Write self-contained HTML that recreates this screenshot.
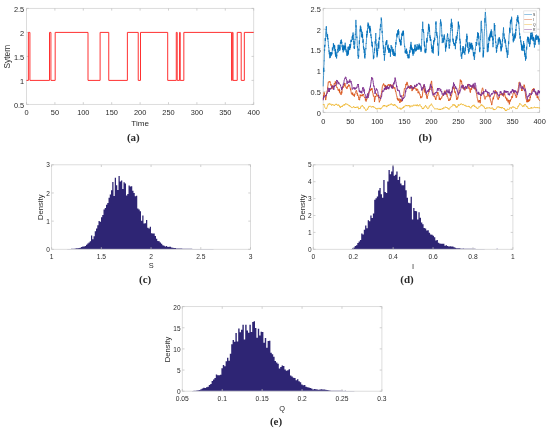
<!DOCTYPE html>
<html><head><meta charset="utf-8"><style>
html,body{margin:0;padding:0;background:#fff;}
body{width:550px;height:430px;overflow:hidden;position:relative;font-family:"Liberation Sans", sans-serif;}
svg{position:absolute;left:0;top:0;will-change:transform;}
</style></head><body>
<svg width="550" height="430" viewBox="0 0 550 430">
<rect x="26.50" y="8.40" width="227.20" height="96.00" fill="none" stroke="#d9d9d9" stroke-width="0.9"/>
<line x1="26.50" y1="104.40" x2="26.50" y2="102.20" stroke="#bdbdbd" stroke-width="0.7"/>
<line x1="26.50" y1="8.40" x2="26.50" y2="10.60" stroke="#bdbdbd" stroke-width="0.7"/>
<line x1="54.90" y1="104.40" x2="54.90" y2="102.20" stroke="#bdbdbd" stroke-width="0.7"/>
<line x1="54.90" y1="8.40" x2="54.90" y2="10.60" stroke="#bdbdbd" stroke-width="0.7"/>
<line x1="83.30" y1="104.40" x2="83.30" y2="102.20" stroke="#bdbdbd" stroke-width="0.7"/>
<line x1="83.30" y1="8.40" x2="83.30" y2="10.60" stroke="#bdbdbd" stroke-width="0.7"/>
<line x1="111.70" y1="104.40" x2="111.70" y2="102.20" stroke="#bdbdbd" stroke-width="0.7"/>
<line x1="111.70" y1="8.40" x2="111.70" y2="10.60" stroke="#bdbdbd" stroke-width="0.7"/>
<line x1="140.10" y1="104.40" x2="140.10" y2="102.20" stroke="#bdbdbd" stroke-width="0.7"/>
<line x1="140.10" y1="8.40" x2="140.10" y2="10.60" stroke="#bdbdbd" stroke-width="0.7"/>
<line x1="168.50" y1="104.40" x2="168.50" y2="102.20" stroke="#bdbdbd" stroke-width="0.7"/>
<line x1="168.50" y1="8.40" x2="168.50" y2="10.60" stroke="#bdbdbd" stroke-width="0.7"/>
<line x1="196.90" y1="104.40" x2="196.90" y2="102.20" stroke="#bdbdbd" stroke-width="0.7"/>
<line x1="196.90" y1="8.40" x2="196.90" y2="10.60" stroke="#bdbdbd" stroke-width="0.7"/>
<line x1="225.30" y1="104.40" x2="225.30" y2="102.20" stroke="#bdbdbd" stroke-width="0.7"/>
<line x1="225.30" y1="8.40" x2="225.30" y2="10.60" stroke="#bdbdbd" stroke-width="0.7"/>
<line x1="253.70" y1="104.40" x2="253.70" y2="102.20" stroke="#bdbdbd" stroke-width="0.7"/>
<line x1="253.70" y1="8.40" x2="253.70" y2="10.60" stroke="#bdbdbd" stroke-width="0.7"/>
<line x1="26.50" y1="104.40" x2="28.70" y2="104.40" stroke="#bdbdbd" stroke-width="0.7"/>
<line x1="253.70" y1="104.40" x2="251.50" y2="104.40" stroke="#bdbdbd" stroke-width="0.7"/>
<line x1="26.50" y1="80.40" x2="28.70" y2="80.40" stroke="#bdbdbd" stroke-width="0.7"/>
<line x1="253.70" y1="80.40" x2="251.50" y2="80.40" stroke="#bdbdbd" stroke-width="0.7"/>
<line x1="26.50" y1="56.40" x2="28.70" y2="56.40" stroke="#bdbdbd" stroke-width="0.7"/>
<line x1="253.70" y1="56.40" x2="251.50" y2="56.40" stroke="#bdbdbd" stroke-width="0.7"/>
<line x1="26.50" y1="32.40" x2="28.70" y2="32.40" stroke="#bdbdbd" stroke-width="0.7"/>
<line x1="253.70" y1="32.40" x2="251.50" y2="32.40" stroke="#bdbdbd" stroke-width="0.7"/>
<line x1="26.50" y1="8.40" x2="28.70" y2="8.40" stroke="#bdbdbd" stroke-width="0.7"/>
<line x1="253.70" y1="8.40" x2="251.50" y2="8.40" stroke="#bdbdbd" stroke-width="0.7"/>
<text x="26.50" y="115.05" font-size="7.4" text-anchor="middle" fill="#2a2a2a" font-family='"Liberation Sans", sans-serif' font-weight="normal">0</text>
<text x="54.90" y="115.05" font-size="7.4" text-anchor="middle" fill="#2a2a2a" font-family='"Liberation Sans", sans-serif' font-weight="normal">50</text>
<text x="83.30" y="115.05" font-size="7.4" text-anchor="middle" fill="#2a2a2a" font-family='"Liberation Sans", sans-serif' font-weight="normal">100</text>
<text x="111.70" y="115.05" font-size="7.4" text-anchor="middle" fill="#2a2a2a" font-family='"Liberation Sans", sans-serif' font-weight="normal">150</text>
<text x="140.10" y="115.05" font-size="7.4" text-anchor="middle" fill="#2a2a2a" font-family='"Liberation Sans", sans-serif' font-weight="normal">200</text>
<text x="168.50" y="115.05" font-size="7.4" text-anchor="middle" fill="#2a2a2a" font-family='"Liberation Sans", sans-serif' font-weight="normal">250</text>
<text x="196.90" y="115.05" font-size="7.4" text-anchor="middle" fill="#2a2a2a" font-family='"Liberation Sans", sans-serif' font-weight="normal">300</text>
<text x="225.30" y="115.05" font-size="7.4" text-anchor="middle" fill="#2a2a2a" font-family='"Liberation Sans", sans-serif' font-weight="normal">350</text>
<text x="253.70" y="115.05" font-size="7.4" text-anchor="middle" fill="#2a2a2a" font-family='"Liberation Sans", sans-serif' font-weight="normal">400</text>
<text x="24.20" y="107.75" font-size="7.4" text-anchor="end" fill="#2a2a2a" font-family='"Liberation Sans", sans-serif' font-weight="normal">0.5</text>
<text x="24.20" y="83.75" font-size="7.4" text-anchor="end" fill="#2a2a2a" font-family='"Liberation Sans", sans-serif' font-weight="normal">1</text>
<text x="24.20" y="59.75" font-size="7.4" text-anchor="end" fill="#2a2a2a" font-family='"Liberation Sans", sans-serif' font-weight="normal">1.5</text>
<text x="24.20" y="35.75" font-size="7.4" text-anchor="end" fill="#2a2a2a" font-family='"Liberation Sans", sans-serif' font-weight="normal">2</text>
<text x="24.20" y="11.75" font-size="7.4" text-anchor="end" fill="#2a2a2a" font-family='"Liberation Sans", sans-serif' font-weight="normal">2.5</text>
<text x="140.10" y="126.10" font-size="8.1" text-anchor="middle" fill="#2a2a2a" font-family='"Liberation Sans", sans-serif' font-weight="normal">Time</text>
<text transform="translate(6.60,56.70) rotate(-90)" x="0" y="2.97" font-size="8.3" text-anchor="middle" fill="#2a2a2a" font-family='"Liberation Sans", sans-serif' font-weight="normal">Sytem</text>
<text x="133.30" y="141.35" font-size="11" text-anchor="middle" fill="#2a2a2a" font-family='"Liberation Serif", serif' font-weight="bold">(a)</text>
<polyline fill="none" stroke="#ff3030" stroke-width="1" points="26.50,80.40 28.37,80.40 28.37,32.40 29.91,32.40 29.91,80.40 49.50,80.40 49.50,32.40 50.92,32.40 50.92,80.40 55.18,80.40 55.18,32.40 88.01,32.40 88.01,80.40 100.11,80.40 100.11,32.40 108.75,32.40 108.75,80.40 127.38,80.40 127.38,32.40 138.23,32.40 138.23,80.40 140.50,80.40 140.50,32.40 167.70,32.40 167.70,80.40 176.28,80.40 176.28,32.40 177.19,32.40 177.19,80.40 179.58,80.40 179.58,32.40 180.20,32.40 180.20,80.40 183.84,80.40 183.84,32.40 231.55,32.40 231.55,80.40 232.29,80.40 232.29,32.40 233.02,32.40 233.02,80.40 237.23,80.40 237.23,32.40 241.20,32.40 241.20,80.40 244.33,80.40 244.33,32.40 253.70,32.40 253.70,32.40"/>
<rect x="323.20" y="8.40" width="216.40" height="104.00" fill="none" stroke="#d9d9d9" stroke-width="0.9"/>
<line x1="323.20" y1="112.40" x2="323.20" y2="110.20" stroke="#bdbdbd" stroke-width="0.7"/>
<line x1="323.20" y1="8.40" x2="323.20" y2="10.60" stroke="#bdbdbd" stroke-width="0.7"/>
<line x1="350.25" y1="112.40" x2="350.25" y2="110.20" stroke="#bdbdbd" stroke-width="0.7"/>
<line x1="350.25" y1="8.40" x2="350.25" y2="10.60" stroke="#bdbdbd" stroke-width="0.7"/>
<line x1="377.30" y1="112.40" x2="377.30" y2="110.20" stroke="#bdbdbd" stroke-width="0.7"/>
<line x1="377.30" y1="8.40" x2="377.30" y2="10.60" stroke="#bdbdbd" stroke-width="0.7"/>
<line x1="404.35" y1="112.40" x2="404.35" y2="110.20" stroke="#bdbdbd" stroke-width="0.7"/>
<line x1="404.35" y1="8.40" x2="404.35" y2="10.60" stroke="#bdbdbd" stroke-width="0.7"/>
<line x1="431.40" y1="112.40" x2="431.40" y2="110.20" stroke="#bdbdbd" stroke-width="0.7"/>
<line x1="431.40" y1="8.40" x2="431.40" y2="10.60" stroke="#bdbdbd" stroke-width="0.7"/>
<line x1="458.45" y1="112.40" x2="458.45" y2="110.20" stroke="#bdbdbd" stroke-width="0.7"/>
<line x1="458.45" y1="8.40" x2="458.45" y2="10.60" stroke="#bdbdbd" stroke-width="0.7"/>
<line x1="485.50" y1="112.40" x2="485.50" y2="110.20" stroke="#bdbdbd" stroke-width="0.7"/>
<line x1="485.50" y1="8.40" x2="485.50" y2="10.60" stroke="#bdbdbd" stroke-width="0.7"/>
<line x1="512.55" y1="112.40" x2="512.55" y2="110.20" stroke="#bdbdbd" stroke-width="0.7"/>
<line x1="512.55" y1="8.40" x2="512.55" y2="10.60" stroke="#bdbdbd" stroke-width="0.7"/>
<line x1="539.60" y1="112.40" x2="539.60" y2="110.20" stroke="#bdbdbd" stroke-width="0.7"/>
<line x1="539.60" y1="8.40" x2="539.60" y2="10.60" stroke="#bdbdbd" stroke-width="0.7"/>
<line x1="323.20" y1="112.40" x2="325.40" y2="112.40" stroke="#bdbdbd" stroke-width="0.7"/>
<line x1="539.60" y1="112.40" x2="537.40" y2="112.40" stroke="#bdbdbd" stroke-width="0.7"/>
<line x1="323.20" y1="91.60" x2="325.40" y2="91.60" stroke="#bdbdbd" stroke-width="0.7"/>
<line x1="539.60" y1="91.60" x2="537.40" y2="91.60" stroke="#bdbdbd" stroke-width="0.7"/>
<line x1="323.20" y1="70.80" x2="325.40" y2="70.80" stroke="#bdbdbd" stroke-width="0.7"/>
<line x1="539.60" y1="70.80" x2="537.40" y2="70.80" stroke="#bdbdbd" stroke-width="0.7"/>
<line x1="323.20" y1="50.00" x2="325.40" y2="50.00" stroke="#bdbdbd" stroke-width="0.7"/>
<line x1="539.60" y1="50.00" x2="537.40" y2="50.00" stroke="#bdbdbd" stroke-width="0.7"/>
<line x1="323.20" y1="29.20" x2="325.40" y2="29.20" stroke="#bdbdbd" stroke-width="0.7"/>
<line x1="539.60" y1="29.20" x2="537.40" y2="29.20" stroke="#bdbdbd" stroke-width="0.7"/>
<line x1="323.20" y1="8.40" x2="325.40" y2="8.40" stroke="#bdbdbd" stroke-width="0.7"/>
<line x1="539.60" y1="8.40" x2="537.40" y2="8.40" stroke="#bdbdbd" stroke-width="0.7"/>
<text x="323.20" y="123.65" font-size="7.4" text-anchor="middle" fill="#2a2a2a" font-family='"Liberation Sans", sans-serif' font-weight="normal">0</text>
<text x="350.25" y="123.65" font-size="7.4" text-anchor="middle" fill="#2a2a2a" font-family='"Liberation Sans", sans-serif' font-weight="normal">50</text>
<text x="377.30" y="123.65" font-size="7.4" text-anchor="middle" fill="#2a2a2a" font-family='"Liberation Sans", sans-serif' font-weight="normal">100</text>
<text x="404.35" y="123.65" font-size="7.4" text-anchor="middle" fill="#2a2a2a" font-family='"Liberation Sans", sans-serif' font-weight="normal">150</text>
<text x="431.40" y="123.65" font-size="7.4" text-anchor="middle" fill="#2a2a2a" font-family='"Liberation Sans", sans-serif' font-weight="normal">200</text>
<text x="458.45" y="123.65" font-size="7.4" text-anchor="middle" fill="#2a2a2a" font-family='"Liberation Sans", sans-serif' font-weight="normal">250</text>
<text x="485.50" y="123.65" font-size="7.4" text-anchor="middle" fill="#2a2a2a" font-family='"Liberation Sans", sans-serif' font-weight="normal">300</text>
<text x="512.55" y="123.65" font-size="7.4" text-anchor="middle" fill="#2a2a2a" font-family='"Liberation Sans", sans-serif' font-weight="normal">350</text>
<text x="539.60" y="123.65" font-size="7.4" text-anchor="middle" fill="#2a2a2a" font-family='"Liberation Sans", sans-serif' font-weight="normal">400</text>
<text x="320.90" y="115.75" font-size="7.4" text-anchor="end" fill="#2a2a2a" font-family='"Liberation Sans", sans-serif' font-weight="normal">0</text>
<text x="320.90" y="94.95" font-size="7.4" text-anchor="end" fill="#2a2a2a" font-family='"Liberation Sans", sans-serif' font-weight="normal">0.5</text>
<text x="320.90" y="74.15" font-size="7.4" text-anchor="end" fill="#2a2a2a" font-family='"Liberation Sans", sans-serif' font-weight="normal">1</text>
<text x="320.90" y="53.35" font-size="7.4" text-anchor="end" fill="#2a2a2a" font-family='"Liberation Sans", sans-serif' font-weight="normal">1.5</text>
<text x="320.90" y="32.55" font-size="7.4" text-anchor="end" fill="#2a2a2a" font-family='"Liberation Sans", sans-serif' font-weight="normal">2</text>
<text x="320.90" y="11.75" font-size="7.4" text-anchor="end" fill="#2a2a2a" font-family='"Liberation Sans", sans-serif' font-weight="normal">2.5</text>
<text x="425.30" y="141.35" font-size="11" text-anchor="middle" fill="#2a2a2a" font-family='"Liberation Serif", serif' font-weight="bold">(b)</text>
<polyline fill="none" stroke="#0070BA" stroke-width="0.7" stroke-linejoin="round" points="323.2,86.4 323.3,80.8 323.4,79.8 323.5,75.7 323.6,75.5 323.7,67.8 323.8,72.0 323.9,65.4 324.0,65.0 324.1,60.6 324.2,61.2 324.3,54.0 324.4,53.3 324.5,49.6 324.6,50.5 324.7,45.1 324.8,47.2 324.9,44.8 325.0,45.5 325.1,43.6 325.2,38.1 325.3,41.0 325.4,40.0 325.5,37.4 325.6,36.3 325.7,32.2 325.8,32.2 325.9,30.8 326.0,29.1 326.1,29.7 326.2,26.8 326.3,27.3 326.3,27.3 326.4,26.3 326.5,30.0 326.6,33.6 326.7,32.6 326.8,35.1 326.9,36.0 327.0,37.0 327.1,35.4 327.2,34.0 327.3,35.3 327.4,39.0 327.5,35.7 327.6,34.5 327.7,35.7 327.8,39.5 327.9,38.0 328.0,40.2 328.1,41.8 328.2,41.5 328.3,42.0 328.4,45.5 328.5,45.0 328.6,47.6 328.7,47.6 328.8,47.2 328.9,48.9 329.0,51.8 329.1,50.4 329.2,53.4 329.3,54.4 329.4,52.3 329.5,54.2 329.6,54.5 329.7,58.2 329.8,57.8 329.9,56.7 330.0,52.6 330.1,54.0 330.2,56.7 330.3,56.8 330.4,57.7 330.5,55.2 330.6,52.1 330.7,55.4 330.8,56.2 330.9,53.2 331.0,53.9 331.1,52.3 331.2,52.2 331.3,54.0 331.4,54.2 331.5,55.5 331.6,55.1 331.7,52.2 331.8,54.4 331.9,53.3 332.0,53.8 332.1,53.7 332.2,51.8 332.3,48.9 332.4,47.5 332.5,50.0 332.5,49.3 332.6,48.9 332.7,50.0 332.8,50.1 332.9,50.6 333.0,47.5 333.1,48.6 333.2,46.4 333.3,45.5 333.4,43.1 333.5,45.4 333.6,47.4 333.7,44.2 333.8,45.2 333.9,46.7 334.0,45.8 334.1,46.6 334.2,47.6 334.3,45.6 334.4,46.2 334.5,45.2 334.6,49.1 334.7,45.5 334.8,48.9 334.9,49.8 335.0,51.0 335.1,49.2 335.2,52.0 335.3,54.5 335.4,49.2 335.5,54.0 335.6,56.8 335.7,55.5 335.8,51.8 335.9,55.8 336.0,53.4 336.1,53.7 336.2,53.6 336.3,56.5 336.4,57.5 336.5,56.8 336.6,58.5 336.7,55.0 336.8,56.3 336.9,55.0 337.0,53.2 337.1,51.8 337.2,52.8 337.3,50.9 337.4,49.6 337.5,49.9 337.6,49.5 337.7,50.3 337.8,49.8 337.9,48.8 338.0,47.8 338.1,44.9 338.2,50.2 338.3,52.3 338.4,47.7 338.5,49.0 338.6,48.6 338.7,47.2 338.7,47.6 338.8,44.7 338.9,45.9 339.0,45.8 339.1,46.4 339.2,46.5 339.3,47.6 339.4,46.7 339.5,48.5 339.6,47.4 339.7,51.0 339.8,45.1 339.9,46.7 340.0,47.5 340.1,49.7 340.2,44.4 340.3,43.0 340.4,42.3 340.5,43.5 340.6,42.0 340.7,43.0 340.8,41.2 340.9,40.1 341.0,41.6 341.1,41.3 341.2,44.0 341.3,40.7 341.4,39.5 341.5,41.7 341.6,42.5 341.7,43.1 341.8,41.8 341.9,43.3 342.0,44.3 342.1,47.2 342.2,45.7 342.3,44.9 342.4,45.5 342.5,50.0 342.6,47.9 342.7,48.1 342.8,49.4 342.9,47.0 343.0,50.1 343.1,49.4 343.2,52.4 343.3,47.2 343.4,45.8 343.5,46.3 343.6,48.2 343.7,48.0 343.8,50.8 343.9,47.6 344.0,44.9 344.1,49.8 344.2,47.0 344.3,46.4 344.4,48.8 344.5,47.7 344.6,46.0 344.7,48.1 344.8,47.2 344.8,47.6 344.9,46.2 345.0,47.1 345.1,46.1 345.2,42.7 345.3,50.1 345.4,45.7 345.5,45.6 345.6,46.2 345.7,47.3 345.8,48.9 345.9,50.6 346.0,50.6 346.1,52.2 346.2,50.1 346.3,49.6 346.4,49.6 346.5,50.3 346.6,50.3 346.7,55.6 346.8,55.5 346.9,55.7 347.0,53.2 347.1,51.6 347.2,53.1 347.3,53.7 347.4,53.7 347.5,52.3 347.6,55.9 347.7,50.6 347.8,52.0 347.9,52.6 348.0,46.8 348.1,54.8 348.2,52.0 348.3,50.5 348.4,54.2 348.5,50.3 348.6,51.3 348.7,51.2 348.8,50.1 348.9,46.4 349.0,50.0 349.1,47.3 349.2,49.0 349.3,49.8 349.4,48.0 349.5,48.1 349.6,45.8 349.7,44.0 349.8,48.4 349.9,49.6 350.0,47.1 350.1,47.9 350.2,46.8 350.3,47.3 350.4,44.9 350.5,47.5 350.6,44.3 350.7,45.3 350.8,41.6 350.9,40.8 351.0,40.5 351.0,41.9 351.1,39.8 351.2,39.6 351.3,41.3 351.4,41.4 351.5,40.1 351.6,41.7 351.7,41.3 351.8,39.5 351.9,39.3 352.0,37.0 352.1,37.2 352.2,36.4 352.3,37.4 352.4,37.5 352.5,35.3 352.6,37.0 352.7,40.0 352.8,34.2 352.9,34.1 353.0,32.5 353.1,32.5 353.2,35.3 353.3,35.6 353.4,34.7 353.5,39.3 353.6,38.7 353.7,41.9 353.8,41.0 353.9,44.8 354.0,41.4 354.1,48.3 354.2,46.4 354.3,47.8 354.4,49.0 354.5,49.0 354.6,47.4 354.7,45.5 354.8,42.8 354.9,43.3 355.0,39.4 355.1,40.0 355.2,38.7 355.3,33.8 355.4,34.7 355.5,30.4 355.6,28.6 355.7,24.4 355.8,24.3 355.9,19.9 356.0,24.2 356.1,26.8 356.2,25.5 356.3,25.5 356.4,26.5 356.5,28.4 356.6,29.0 356.7,34.0 356.8,38.0 356.9,36.6 357.0,40.0 357.1,41.0 357.2,41.2 357.2,43.5 357.3,45.6 357.4,47.6 357.5,46.2 357.6,51.8 357.7,54.2 357.8,54.2 357.9,55.6 358.0,54.8 358.1,57.1 358.2,58.6 358.3,58.4 358.4,58.6 358.5,56.7 358.6,55.5 358.7,57.1 358.8,48.7 358.9,50.7 359.0,48.0 359.1,47.8 359.2,46.0 359.3,40.4 359.4,44.1 359.5,41.8 359.6,39.6 359.7,37.1 359.8,37.1 359.9,34.6 360.0,34.2 360.1,29.3 360.2,31.7 360.3,26.1 360.4,25.6 360.5,30.7 360.6,29.1 360.7,29.8 360.8,26.6 360.9,27.7 361.0,30.9 361.1,29.1 361.2,30.3 361.3,32.1 361.4,30.6 361.5,31.1 361.6,30.9 361.7,37.0 361.8,34.2 361.9,34.4 362.0,34.2 362.1,37.8 362.2,31.8 362.3,35.9 362.4,34.5 362.5,38.1 362.6,34.4 362.7,36.9 362.8,39.6 362.9,42.9 363.0,41.2 363.1,41.7 363.2,39.2 363.3,42.5 363.4,46.3 363.4,47.5 363.5,46.2 363.6,49.4 363.7,49.4 363.8,48.7 363.9,47.4 364.0,48.6 364.1,50.4 364.2,53.2 364.3,51.3 364.4,49.0 364.5,53.2 364.6,57.4 364.7,55.1 364.8,55.3 364.9,58.5 365.0,55.5 365.1,53.7 365.2,54.9 365.3,53.9 365.4,52.0 365.5,51.6 365.6,50.7 365.7,49.2 365.8,48.2 365.9,49.2 366.0,44.7 366.1,43.3 366.2,43.9 366.3,42.0 366.4,41.0 366.5,38.4 366.6,34.6 366.7,34.0 366.8,37.5 366.9,33.6 367.0,35.2 367.1,30.8 367.2,33.2 367.3,30.7 367.4,33.2 367.5,28.5 367.6,29.1 367.7,28.7 367.8,25.5 367.9,26.1 368.0,22.5 368.1,23.8 368.2,26.7 368.3,23.8 368.4,24.9 368.5,23.8 368.6,23.9 368.7,28.1 368.8,27.3 368.9,26.8 369.0,27.1 369.1,27.6 369.2,29.1 369.3,28.0 369.4,25.8 369.5,29.8 369.6,27.5 369.6,29.7 369.7,32.9 369.8,29.1 369.9,29.0 370.0,26.3 370.1,25.9 370.2,30.5 370.3,29.4 370.4,31.1 370.5,28.4 370.6,29.8 370.7,32.2 370.8,36.1 370.9,34.2 371.0,35.6 371.1,37.1 371.2,38.1 371.3,36.7 371.4,39.1 371.5,41.3 371.6,41.3 371.7,42.9 371.8,41.5 371.9,42.4 372.0,46.0 372.1,42.2 372.2,45.9 372.3,47.1 372.4,45.0 372.5,47.8 372.6,48.4 372.7,48.6 372.8,50.5 372.9,52.4 373.0,52.5 373.1,53.5 373.2,53.7 373.3,57.7 373.4,59.2 373.5,57.7 373.6,57.9 373.7,55.5 373.8,58.2 373.9,55.9 374.0,54.7 374.1,53.2 374.2,52.4 374.3,52.6 374.4,53.1 374.5,48.4 374.6,50.6 374.7,50.8 374.8,49.1 374.9,46.4 375.0,46.3 375.1,41.2 375.2,43.2 375.3,43.1 375.4,43.7 375.5,38.5 375.6,36.4 375.7,35.4 375.8,33.0 375.8,34.7 375.9,40.5 376.0,40.1 376.1,39.6 376.2,45.4 376.3,44.4 376.4,45.1 376.5,46.0 376.6,51.7 376.7,48.2 376.8,49.5 376.9,53.4 377.0,57.3 377.1,56.0 377.2,51.7 377.3,54.5 377.4,52.0 377.5,55.4 377.6,49.7 377.7,50.4 377.8,51.1 377.9,47.8 378.0,48.7 378.1,43.3 378.2,44.8 378.3,46.2 378.4,44.9 378.5,47.3 378.6,46.3 378.7,41.4 378.8,48.5 378.9,42.8 379.0,40.6 379.1,37.8 379.2,38.5 379.3,37.9 379.4,37.8 379.5,37.0 379.6,39.8 379.7,34.8 379.8,33.8 379.9,31.9 380.0,29.3 380.1,28.7 380.2,30.3 380.3,28.4 380.4,25.2 380.5,24.2 380.6,25.5 380.7,25.6 380.8,25.5 380.9,27.1 381.0,22.5 381.1,22.4 381.2,17.5 381.3,18.8 381.4,20.2 381.5,18.8 381.6,21.3 381.7,21.3 381.8,23.7 381.9,25.0 381.9,28.7 382.0,28.5 382.1,32.9 382.2,30.9 382.3,34.7 382.4,34.8 382.5,36.3 382.6,37.0 382.7,39.8 382.8,42.1 382.9,41.4 383.0,41.4 383.1,46.2 383.2,46.7 383.3,48.6 383.4,49.3 383.5,47.0 383.6,45.3 383.7,48.6 383.8,52.9 383.9,50.6 384.0,55.1 384.1,54.3 384.2,55.0 384.3,54.0 384.4,60.7 384.5,58.0 384.6,56.9 384.7,54.1 384.8,55.0 384.9,52.4 385.0,53.0 385.1,47.2 385.2,48.0 385.3,51.6 385.4,48.8 385.5,47.8 385.6,47.3 385.7,45.7 385.8,43.7 385.9,44.9 386.0,41.5 386.1,41.7 386.2,44.3 386.3,44.9 386.4,41.9 386.5,44.1 386.6,40.4 386.7,43.7 386.8,40.0 386.9,42.7 387.0,45.1 387.1,45.3 387.2,46.4 387.3,46.3 387.4,47.1 387.5,47.8 387.6,46.6 387.7,45.8 387.8,49.2 387.9,49.2 388.0,49.3 388.1,48.1 388.1,49.4 388.2,44.6 388.3,49.5 388.4,49.0 388.5,51.4 388.6,49.7 388.7,50.7 388.8,53.0 388.9,49.1 389.0,51.0 389.1,47.8 389.2,50.4 389.3,51.0 389.4,51.1 389.5,48.1 389.6,51.9 389.7,51.7 389.8,52.6 389.9,51.4 390.0,52.4 390.1,51.9 390.2,51.1 390.3,49.9 390.4,56.8 390.5,54.7 390.6,49.3 390.7,50.6 390.8,50.6 390.9,50.5 391.0,48.4 391.1,45.0 391.2,47.3 391.3,47.4 391.4,47.7 391.5,47.1 391.6,46.7 391.7,48.4 391.8,49.5 391.9,46.8 392.0,47.9 392.1,47.7 392.2,51.8 392.3,49.7 392.4,51.9 392.5,49.7 392.6,51.5 392.7,49.5 392.8,54.7 392.9,52.5 393.0,50.6 393.1,52.5 393.2,48.9 393.3,51.3 393.4,52.7 393.5,52.0 393.6,54.0 393.7,53.3 393.8,56.0 393.9,55.1 394.0,55.0 394.1,51.5 394.2,55.8 394.3,54.4 394.3,56.0 394.4,53.5 394.5,55.2 394.6,53.7 394.7,53.1 394.8,53.0 394.9,55.0 395.0,54.3 395.1,53.1 395.2,56.3 395.3,49.9 395.4,48.7 395.5,46.4 395.6,47.0 395.7,44.0 395.8,42.0 395.9,44.0 396.0,44.1 396.1,44.6 396.2,40.1 396.3,40.4 396.4,39.3 396.5,39.0 396.6,38.7 396.7,37.9 396.8,37.5 396.9,34.2 397.0,37.4 397.1,33.2 397.2,35.6 397.3,33.8 397.4,34.8 397.5,33.2 397.6,30.3 397.7,30.5 397.8,30.5 397.9,31.6 398.0,34.6 398.1,30.7 398.2,30.7 398.3,34.8 398.4,34.0 398.5,29.2 398.6,33.7 398.7,33.9 398.8,31.1 398.9,33.7 399.0,35.7 399.1,38.2 399.2,39.1 399.3,39.1 399.4,40.2 399.5,38.7 399.6,39.2 399.7,41.2 399.8,41.7 399.9,39.2 400.0,42.1 400.1,40.0 400.2,41.0 400.3,43.1 400.4,44.4 400.5,40.6 400.5,43.4 400.6,44.8 400.7,44.4 400.8,45.6 400.9,41.1 401.0,45.1 401.1,44.4 401.2,43.2 401.3,42.1 401.4,37.3 401.5,39.8 401.6,36.5 401.7,36.9 401.8,33.8 401.9,35.4 402.0,35.3 402.1,32.7 402.2,35.5 402.3,35.4 402.4,34.1 402.5,33.3 402.6,35.7 402.7,32.8 402.8,35.9 402.9,33.2 403.0,31.1 403.1,32.9 403.2,30.5 403.3,35.0 403.4,31.0 403.5,33.9 403.6,33.0 403.7,34.7 403.8,36.7 403.9,37.7 404.0,40.0 404.1,41.0 404.2,42.8 404.3,43.1 404.4,45.0 404.5,46.6 404.6,46.8 404.7,45.9 404.8,47.1 404.9,49.4 405.0,50.5 405.1,51.4 405.2,52.8 405.3,50.8 405.4,53.4 405.5,50.6 405.6,50.1 405.7,50.7 405.8,50.9 405.9,51.4 406.0,51.9 406.1,51.8 406.2,48.6 406.3,51.5 406.4,53.8 406.5,49.4 406.6,48.9 406.7,53.4 406.7,53.9 406.8,53.2 406.9,51.2 407.0,51.2 407.1,52.4 407.2,52.1 407.3,55.9 407.4,55.0 407.5,54.6 407.6,54.4 407.7,54.8 407.8,55.3 407.9,58.2 408.0,57.6 408.1,54.9 408.2,56.5 408.3,56.8 408.4,57.7 408.5,56.6 408.6,56.5 408.7,56.5 408.8,58.4 408.9,53.9 409.0,58.1 409.1,57.3 409.2,55.7 409.3,55.5 409.4,55.4 409.5,51.8 409.6,52.9 409.7,52.0 409.8,49.9 409.9,52.8 410.0,51.0 410.1,51.5 410.2,47.1 410.3,47.3 410.4,46.8 410.5,49.4 410.6,47.3 410.7,44.5 410.8,47.8 410.9,47.3 411.0,41.9 411.1,47.9 411.2,45.3 411.3,50.2 411.4,48.7 411.5,46.7 411.6,48.9 411.7,47.0 411.8,47.3 411.9,49.0 412.0,49.1 412.1,50.0 412.2,49.5 412.3,48.7 412.4,52.1 412.5,48.5 412.6,53.4 412.7,49.8 412.8,52.7 412.9,54.1 412.9,52.5 413.0,55.6 413.1,55.8 413.2,55.3 413.3,53.3 413.4,53.3 413.5,51.8 413.6,49.0 413.7,52.7 413.8,49.9 413.9,53.8 414.0,53.3 414.1,52.0 414.2,51.8 414.3,51.0 414.4,49.1 414.5,49.5 414.6,47.5 414.7,50.0 414.8,50.2 414.9,44.9 415.0,47.1 415.1,46.8 415.2,44.6 415.3,48.3 415.4,49.0 415.5,49.0 415.6,49.3 415.7,51.5 415.8,48.8 415.9,49.9 416.0,50.9 416.1,49.8 416.2,47.7 416.3,50.3 416.4,50.1 416.5,50.2 416.6,46.6 416.7,47.6 416.8,48.8 416.9,49.9 417.0,49.9 417.1,44.1 417.2,44.2 417.3,45.4 417.4,45.5 417.5,47.7 417.6,49.0 417.7,49.0 417.8,49.5 417.9,48.9 418.0,47.2 418.1,47.4 418.2,48.0 418.3,47.0 418.4,47.5 418.5,49.3 418.6,45.7 418.7,48.0 418.8,48.8 418.9,46.9 419.0,44.8 419.0,49.6 419.1,48.0 419.2,43.6 419.3,46.4 419.4,47.6 419.5,46.1 419.6,48.1 419.7,45.1 419.8,47.2 419.9,47.2 420.0,46.2 420.1,45.9 420.2,47.0 420.3,49.6 420.4,47.0 420.5,47.4 420.6,48.5 420.7,46.7 420.8,48.0 420.9,49.9 421.0,51.9 421.1,49.7 421.2,47.4 421.3,50.5 421.4,49.4 421.5,47.3 421.6,44.4 421.7,39.2 421.8,39.8 421.9,37.5 422.0,32.1 422.1,31.1 422.2,29.0 422.3,30.1 422.4,29.6 422.5,28.5 422.6,24.9 422.7,21.7 422.8,23.4 422.9,29.3 423.0,32.0 423.1,29.2 423.2,30.6 423.3,29.6 423.4,30.9 423.5,31.0 423.6,32.8 423.7,31.8 423.8,33.8 423.9,35.1 424.0,38.8 424.1,41.8 424.2,41.7 424.3,45.8 424.4,41.5 424.5,43.4 424.6,46.5 424.7,44.8 424.8,47.1 424.9,46.5 425.0,51.8 425.1,50.2 425.2,53.2 425.2,48.9 425.3,49.4 425.4,50.5 425.5,48.8 425.6,51.9 425.7,50.9 425.8,52.8 425.9,48.7 426.0,49.0 426.1,49.4 426.2,50.4 426.3,48.7 426.4,43.3 426.5,41.0 426.6,42.2 426.7,37.9 426.8,38.4 426.9,40.7 427.0,42.6 427.1,39.9 427.2,41.1 427.3,38.9 427.4,38.9 427.5,36.6 427.6,34.8 427.7,34.8 427.8,35.4 427.9,32.4 428.0,33.7 428.1,32.8 428.2,29.6 428.3,29.5 428.4,26.6 428.5,23.8 428.6,27.2 428.7,30.0 428.8,29.2 428.9,28.5 429.0,24.4 429.1,28.9 429.2,31.5 429.3,26.8 429.4,31.8 429.5,30.4 429.6,29.9 429.7,32.6 429.8,34.9 429.9,37.9 430.0,35.3 430.1,36.6 430.2,37.7 430.3,40.8 430.4,37.0 430.5,40.7 430.6,39.0 430.7,39.1 430.8,39.8 430.9,40.3 431.0,39.6 431.1,41.5 431.2,42.4 431.3,45.3 431.4,44.5 431.4,44.5 431.5,48.6 431.6,46.1 431.7,45.8 431.8,48.8 431.9,49.1 432.0,47.8 432.1,51.6 432.2,50.2 432.3,52.8 432.4,49.7 432.5,50.9 432.6,49.3 432.7,47.9 432.8,47.1 432.9,49.9 433.0,45.3 433.1,49.6 433.2,49.3 433.3,53.5 433.4,46.8 433.5,48.0 433.6,40.5 433.7,44.6 433.8,43.0 433.9,40.4 434.0,41.5 434.1,42.1 434.2,41.5 434.3,40.4 434.4,37.7 434.5,39.6 434.6,40.8 434.7,38.9 434.8,39.9 434.9,36.8 435.0,35.9 435.1,33.4 435.2,32.3 435.3,32.9 435.4,29.6 435.5,29.3 435.6,28.0 435.7,25.1 435.8,22.4 435.9,24.5 436.0,21.3 436.1,23.5 436.2,24.5 436.3,27.4 436.4,27.9 436.5,30.3 436.6,34.5 436.7,35.9 436.8,32.0 436.9,34.7 437.0,34.5 437.1,36.4 437.2,37.9 437.3,35.9 437.4,35.7 437.5,39.1 437.6,40.4 437.6,43.5 437.7,45.6 437.8,42.9 437.9,44.3 438.0,44.1 438.1,44.3 438.2,51.9 438.3,51.8 438.4,55.8 438.5,51.6 438.6,54.5 438.7,50.9 438.8,49.0 438.9,46.7 439.0,45.5 439.1,44.4 439.2,43.7 439.3,39.6 439.4,38.0 439.5,36.3 439.6,36.4 439.7,35.9 439.8,34.3 439.9,32.7 440.0,29.4 440.1,27.2 440.2,23.2 440.3,22.9 440.4,23.6 440.5,19.5 440.6,19.3 440.7,23.0 440.8,22.5 440.9,22.5 441.0,21.7 441.1,26.1 441.2,23.4 441.3,24.4 441.4,27.2 441.5,27.3 441.6,29.6 441.7,31.0 441.8,33.4 441.9,36.6 442.0,34.6 442.1,38.2 442.2,43.1 442.3,42.0 442.4,41.6 442.5,41.4 442.6,40.7 442.7,38.9 442.8,37.9 442.9,40.8 443.0,40.7 443.1,42.4 443.2,41.3 443.3,39.8 443.4,42.4 443.5,38.8 443.6,39.6 443.7,38.3 443.8,38.6 443.8,38.8 443.9,38.1 444.0,35.7 444.1,39.0 444.2,36.5 444.3,34.4 444.4,35.8 444.5,35.9 444.6,39.7 444.7,39.4 444.8,38.7 444.9,39.8 445.0,42.0 445.1,42.5 445.2,45.0 445.3,44.9 445.4,47.8 445.5,46.6 445.6,51.6 445.7,48.6 445.8,44.9 445.9,48.4 446.0,45.5 446.1,43.7 446.2,42.7 446.3,44.4 446.4,47.0 446.5,44.7 446.6,41.8 446.7,39.9 446.8,41.7 446.9,41.0 447.0,37.4 447.1,37.5 447.2,36.6 447.3,35.5 447.4,36.5 447.5,33.4 447.6,34.9 447.7,34.1 447.8,36.5 447.9,36.6 448.0,36.7 448.1,39.2 448.2,38.3 448.3,40.8 448.4,40.3 448.5,40.7 448.6,40.1 448.7,40.8 448.8,45.6 448.9,46.0 449.0,45.8 449.1,48.3 449.2,47.9 449.3,47.3 449.4,48.5 449.5,44.7 449.6,44.3 449.7,45.9 449.8,43.8 449.9,38.9 449.9,42.4 450.0,41.4 450.1,39.7 450.2,36.2 450.3,33.6 450.4,33.5 450.5,31.8 450.6,29.4 450.7,28.2 450.8,29.1 450.9,28.0 451.0,23.5 451.1,27.0 451.2,25.6 451.3,21.8 451.4,18.8 451.5,22.5 451.6,23.0 451.7,23.4 451.8,26.0 451.9,22.3 452.0,28.1 452.1,25.0 452.2,30.9 452.3,29.3 452.4,30.8 452.5,33.5 452.6,36.4 452.7,37.7 452.8,39.3 452.9,40.2 453.0,38.6 453.1,41.7 453.2,39.3 453.3,42.1 453.4,41.4 453.5,43.9 453.6,42.2 453.7,43.3 453.8,42.7 453.9,43.1 454.0,43.5 454.1,45.5 454.2,45.0 454.3,45.3 454.4,43.2 454.5,44.1 454.6,43.8 454.7,45.0 454.8,43.6 454.9,44.5 455.0,45.6 455.1,44.6 455.2,45.4 455.3,45.2 455.4,49.2 455.5,41.3 455.6,39.8 455.7,42.4 455.8,42.7 455.9,42.0 456.0,43.4 456.1,42.9 456.1,40.5 456.2,36.2 456.3,40.8 456.4,37.8 456.5,37.5 456.6,36.9 456.7,37.9 456.8,36.3 456.9,39.5 457.0,38.3 457.1,34.7 457.2,35.1 457.3,35.8 457.4,32.0 457.5,33.8 457.6,31.6 457.7,30.2 457.8,30.5 457.9,30.4 458.0,26.8 458.1,25.9 458.2,24.8 458.3,21.5 458.4,24.7 458.5,22.0 458.6,26.6 458.7,24.1 458.8,27.4 458.9,28.7 459.0,28.7 459.1,27.3 459.2,25.5 459.3,30.3 459.4,31.4 459.5,32.4 459.6,34.5 459.7,39.8 459.8,38.7 459.9,40.7 460.0,39.6 460.1,43.5 460.2,42.9 460.3,41.3 460.4,50.4 460.5,45.4 460.6,51.4 460.7,52.5 460.8,53.1 460.9,54.8 461.0,55.5 461.1,56.5 461.2,55.6 461.3,55.7 461.4,56.0 461.5,53.9 461.6,54.8 461.7,58.9 461.8,57.2 461.9,55.3 462.0,52.8 462.1,52.1 462.2,54.3 462.3,52.1 462.3,48.1 462.4,49.4 462.5,51.9 462.6,53.4 462.7,52.4 462.8,49.1 462.9,49.2 463.0,46.2 463.1,48.6 463.2,46.3 463.3,47.4 463.4,48.4 463.5,52.6 463.6,50.7 463.7,50.7 463.8,50.6 463.9,48.1 464.0,50.6 464.1,50.4 464.2,53.3 464.3,52.0 464.4,52.7 464.5,51.4 464.6,52.8 464.7,53.4 464.8,54.2 464.9,54.8 465.0,52.9 465.1,50.6 465.2,49.4 465.3,47.1 465.4,51.2 465.5,49.1 465.6,46.5 465.7,44.3 465.8,46.9 465.9,45.9 466.0,43.0 466.1,42.5 466.2,39.0 466.3,40.0 466.4,42.1 466.5,41.7 466.6,36.2 466.7,36.6 466.8,33.7 466.9,35.4 467.0,39.5 467.1,38.7 467.2,35.9 467.3,42.8 467.4,42.9 467.5,45.7 467.6,43.2 467.7,47.5 467.8,42.1 467.9,44.1 468.0,47.6 468.1,47.0 468.2,50.0 468.3,50.4 468.4,48.8 468.5,52.2 468.5,53.1 468.6,53.5 468.7,50.7 468.8,51.6 468.9,50.7 469.0,51.9 469.1,49.9 469.2,50.6 469.3,48.0 469.4,49.2 469.5,49.6 469.6,49.5 469.7,42.2 469.8,42.5 469.9,46.9 470.0,43.7 470.1,43.8 470.2,46.2 470.3,44.0 470.4,44.2 470.5,45.1 470.6,48.6 470.7,43.6 470.8,48.2 470.9,45.6 471.0,45.4 471.1,49.4 471.2,45.3 471.3,47.5 471.4,44.4 471.5,42.8 471.6,43.8 471.7,45.4 471.8,43.3 471.9,46.8 472.0,47.6 472.1,47.8 472.2,47.8 472.3,50.2 472.4,45.2 472.5,47.0 472.6,45.7 472.7,48.9 472.8,48.6 472.9,47.5 473.0,51.5 473.1,52.7 473.2,53.2 473.3,53.1 473.4,55.6 473.5,54.5 473.6,53.4 473.7,52.0 473.8,56.4 473.9,52.5 474.0,53.5 474.1,54.8 474.2,59.1 474.3,59.4 474.4,60.0 474.5,56.8 474.6,57.4 474.7,57.2 474.7,55.6 474.8,52.1 474.9,53.9 475.0,51.4 475.1,51.4 475.2,49.8 475.3,49.5 475.4,50.0 475.5,47.8 475.6,46.5 475.7,46.0 475.8,45.3 475.9,44.4 476.0,44.4 476.1,42.0 476.2,42.9 476.3,42.2 476.4,44.6 476.5,46.0 476.6,43.6 476.7,43.0 476.8,44.5 476.9,42.7 477.0,39.3 477.1,40.4 477.2,38.6 477.3,36.5 477.4,38.3 477.5,37.8 477.6,32.9 477.7,32.1 477.8,35.0 477.9,37.4 478.0,36.4 478.1,33.3 478.2,35.6 478.3,36.2 478.4,33.1 478.5,36.5 478.6,37.1 478.7,38.7 478.8,35.8 478.9,40.4 479.0,45.3 479.1,42.6 479.2,43.5 479.3,46.6 479.4,47.4 479.5,51.3 479.6,50.7 479.7,48.9 479.8,52.2 479.9,47.3 480.0,49.1 480.1,42.0 480.2,40.9 480.3,40.7 480.4,39.3 480.5,39.9 480.6,34.6 480.7,32.9 480.8,31.0 480.9,27.0 480.9,23.4 481.0,22.2 481.1,22.1 481.2,22.1 481.3,20.8 481.4,22.1 481.5,24.6 481.6,26.2 481.7,30.6 481.8,29.2 481.9,32.4 482.0,31.7 482.1,32.5 482.2,32.7 482.3,38.5 482.4,42.5 482.5,43.2 482.6,44.7 482.7,46.4 482.8,47.8 482.9,49.3 483.0,53.7 483.1,57.5 483.2,56.9 483.3,53.1 483.4,56.4 483.5,50.6 483.6,53.3 483.7,49.4 483.8,47.7 483.9,48.9 484.0,40.5 484.1,37.1 484.2,36.2 484.3,33.2 484.4,31.5 484.5,28.7 484.6,28.3 484.7,26.2 484.8,20.9 484.9,18.2 485.0,22.6 485.1,14.7 485.2,14.8 485.3,12.0 485.4,11.9 485.5,14.6 485.6,15.3 485.7,16.2 485.8,16.7 485.9,20.9 486.0,21.6 486.1,25.3 486.2,24.7 486.3,28.9 486.4,29.7 486.5,29.7 486.6,30.7 486.7,32.8 486.8,36.1 486.9,37.6 487.0,39.7 487.0,41.0 487.1,48.0 487.2,50.0 487.3,52.2 487.4,50.4 487.5,49.5 487.6,47.7 487.7,45.6 487.8,44.1 487.9,47.3 488.0,46.0 488.1,51.6 488.2,46.3 488.3,43.1 488.4,47.6 488.5,43.1 488.6,43.4 488.7,44.1 488.8,42.3 488.9,37.4 489.0,40.3 489.1,37.4 489.2,38.1 489.3,40.0 489.4,35.6 489.5,39.2 489.6,36.3 489.7,41.1 489.8,36.4 489.9,36.7 490.0,38.1 490.1,34.2 490.2,36.6 490.3,32.9 490.4,35.4 490.5,32.4 490.6,34.0 490.7,31.3 490.8,33.4 490.9,36.9 491.0,33.1 491.1,37.1 491.2,34.4 491.3,29.4 491.4,36.3 491.5,34.3 491.6,34.5 491.7,32.9 491.8,31.1 491.9,32.0 492.0,33.2 492.1,36.4 492.2,35.9 492.3,37.8 492.4,36.2 492.5,39.4 492.6,40.0 492.7,40.5 492.8,38.4 492.9,42.4 493.0,47.2 493.1,42.8 493.2,43.7 493.2,43.5 493.3,39.2 493.4,39.8 493.5,38.7 493.6,39.0 493.7,36.3 493.8,36.3 493.9,35.4 494.0,31.0 494.1,30.3 494.2,27.4 494.3,23.1 494.4,28.3 494.5,30.5 494.6,25.5 494.7,25.1 494.8,26.2 494.9,25.2 495.0,28.4 495.1,33.2 495.2,36.2 495.3,34.8 495.4,34.7 495.5,37.3 495.6,42.2 495.7,42.9 495.8,41.5 495.9,42.3 496.0,44.5 496.1,48.3 496.2,47.2 496.3,47.2 496.4,52.8 496.5,52.2 496.6,50.1 496.7,51.4 496.8,47.2 496.9,48.6 497.0,45.1 497.1,46.4 497.2,45.5 497.3,46.4 497.4,47.0 497.5,47.1 497.6,46.4 497.7,44.6 497.8,44.3 497.9,43.6 498.0,44.9 498.1,41.7 498.2,38.8 498.3,42.6 498.4,43.5 498.5,43.2 498.6,42.8 498.7,40.2 498.8,40.3 498.9,41.1 499.0,39.3 499.1,37.5 499.2,40.3 499.3,38.0 499.4,37.3 499.4,37.7 499.5,39.1 499.6,40.9 499.7,38.7 499.8,40.6 499.9,42.2 500.0,41.8 500.1,41.2 500.2,43.7 500.3,39.6 500.4,44.4 500.5,43.1 500.6,41.5 500.7,45.3 500.8,48.4 500.9,45.9 501.0,51.4 501.1,50.1 501.2,46.8 501.3,50.5 501.4,49.7 501.5,47.5 501.6,48.4 501.7,44.9 501.8,43.6 501.9,44.4 502.0,45.7 502.1,47.3 502.2,47.2 502.3,41.3 502.4,41.9 502.5,39.1 502.6,41.0 502.7,36.3 502.8,34.8 502.9,33.6 503.0,34.3 503.1,32.9 503.2,32.1 503.3,30.5 503.4,30.2 503.5,27.4 503.6,29.0 503.7,33.0 503.8,33.6 503.9,36.6 504.0,33.5 504.1,38.0 504.2,39.0 504.3,37.0 504.4,38.1 504.5,38.7 504.6,38.1 504.7,38.5 504.8,41.4 504.9,41.9 505.0,43.2 505.1,42.1 505.2,39.2 505.3,42.4 505.4,40.3 505.5,40.5 505.6,41.5 505.6,43.6 505.7,43.3 505.8,46.1 505.9,46.4 506.0,45.6 506.1,47.5 506.2,48.6 506.3,47.7 506.4,52.1 506.5,52.2 506.6,50.3 506.7,47.9 506.8,50.1 506.9,53.6 507.0,54.3 507.1,54.6 507.2,54.8 507.3,57.9 507.4,57.0 507.5,53.8 507.6,53.4 507.7,53.0 507.8,50.3 507.9,55.0 508.0,53.1 508.1,49.9 508.2,49.8 508.3,47.3 508.4,46.5 508.5,41.4 508.6,42.7 508.7,43.4 508.8,44.1 508.9,39.1 509.0,38.0 509.1,35.1 509.2,34.9 509.3,33.3 509.4,33.4 509.5,32.7 509.6,27.7 509.7,31.3 509.8,28.2 509.9,30.0 510.0,33.1 510.1,30.4 510.2,28.4 510.3,21.7 510.4,22.7 510.5,21.6 510.6,20.2 510.7,23.2 510.8,24.2 510.9,21.4 511.0,20.0 511.1,19.5 511.2,22.2 511.3,18.9 511.4,19.0 511.5,20.4 511.6,16.7 511.7,18.7 511.8,18.4 511.8,21.4 511.9,21.5 512.0,25.0 512.1,26.3 512.2,29.2 512.3,28.7 512.4,30.5 512.5,30.7 512.6,31.5 512.7,36.1 512.8,33.6 512.9,35.7 513.0,36.2 513.1,40.4 513.2,39.4 513.3,42.3 513.4,40.8 513.5,37.9 513.6,40.5 513.7,37.3 513.8,36.2 513.9,36.2 514.0,37.3 514.1,40.6 514.2,34.2 514.3,33.5 514.4,37.6 514.5,36.9 514.6,35.1 514.7,36.1 514.8,36.1 514.9,38.8 515.0,36.2 515.1,37.8 515.2,35.8 515.3,36.0 515.4,37.2 515.5,34.8 515.6,31.8 515.7,35.8 515.8,29.0 515.9,31.0 516.0,30.1 516.1,27.0 516.2,25.0 516.3,24.3 516.4,25.8 516.5,24.9 516.6,24.6 516.7,23.1 516.8,21.4 516.9,19.2 517.0,20.6 517.1,17.7 517.2,17.3 517.3,17.1 517.4,17.3 517.5,21.9 517.6,20.4 517.7,15.2 517.8,15.7 517.9,17.4 518.0,18.6 518.0,16.9 518.1,20.6 518.2,19.7 518.3,22.8 518.4,20.8 518.5,20.9 518.6,23.6 518.7,23.7 518.8,22.4 518.9,25.3 519.0,25.9 519.1,28.5 519.2,28.3 519.3,28.2 519.4,31.6 519.5,33.1 519.6,34.9 519.7,33.4 519.8,36.1 519.9,37.8 520.0,38.7 520.1,37.5 520.2,37.8 520.3,37.2 520.4,36.2 520.5,40.5 520.6,40.3 520.7,42.0 520.8,41.2 520.9,40.4 521.0,43.2 521.1,42.4 521.2,44.7 521.3,43.6 521.4,46.4 521.5,45.4 521.6,50.3 521.7,44.1 521.8,46.1 521.9,47.7 522.0,45.9 522.1,47.6 522.2,45.7 522.3,50.7 522.4,46.3 522.5,47.5 522.6,46.5 522.7,47.9 522.8,45.4 522.9,46.6 523.0,49.2 523.1,48.6 523.2,51.1 523.3,46.2 523.4,47.9 523.5,42.7 523.6,41.0 523.7,44.4 523.8,44.0 523.9,43.2 524.0,43.8 524.1,46.2 524.1,44.9 524.2,48.0 524.3,44.7 524.4,48.8 524.5,51.6 524.6,54.9 524.7,50.3 524.8,54.6 524.9,55.6 525.0,56.8 525.1,55.7 525.2,53.1 525.3,56.0 525.4,57.2 525.5,60.7 525.6,58.9 525.7,57.6 525.8,59.2 525.9,55.7 526.0,58.6 526.1,56.9 526.2,55.5 526.3,51.9 526.4,47.3 526.5,46.7 526.6,48.8 526.7,49.6 526.8,48.8 526.9,48.1 527.0,43.7 527.1,39.9 527.2,39.4 527.3,39.3 527.4,39.9 527.5,38.7 527.6,37.8 527.7,36.8 527.8,40.3 527.9,36.8 528.0,42.2 528.1,42.4 528.2,37.6 528.3,40.1 528.4,37.4 528.5,39.5 528.6,41.9 528.7,41.7 528.8,40.4 528.9,43.2 529.0,43.9 529.1,43.4 529.2,42.3 529.3,43.2 529.4,44.1 529.5,43.1 529.6,46.8 529.7,44.3 529.8,42.3 529.9,41.8 530.0,38.8 530.1,42.5 530.2,44.3 530.3,37.7 530.3,39.9 530.4,39.3 530.5,35.5 530.6,38.8 530.7,32.6 530.8,35.6 530.9,37.6 531.0,37.9 531.1,39.6 531.2,36.7 531.3,39.1 531.4,35.1 531.5,37.0 531.6,31.0 531.7,33.9 531.8,30.8 531.9,28.7 532.0,29.0 532.1,31.3 532.2,32.9 532.3,32.0 532.4,34.4 532.5,36.6 532.6,34.3 532.7,39.4 532.8,40.7 532.9,37.2 533.0,39.3 533.1,37.3 533.2,38.6 533.3,36.8 533.4,40.3 533.5,37.8 533.6,41.0 533.7,41.3 533.8,40.3 533.9,37.7 534.0,42.5 534.1,44.3 534.2,43.5 534.3,43.2 534.4,47.5 534.5,47.0 534.6,45.5 534.7,44.4 534.8,41.0 534.9,41.3 535.0,39.5 535.1,41.8 535.2,44.9 535.3,42.4 535.4,39.5 535.5,35.3 535.6,36.6 535.7,38.2 535.8,38.6 535.9,40.1 536.0,37.8 536.1,39.3 536.2,37.4 536.3,37.5 536.4,38.4 536.5,35.4 536.5,34.6 536.6,35.4 536.7,37.2 536.8,39.8 536.9,38.8 537.0,38.9 537.1,39.5 537.2,38.0 537.3,37.9 537.4,37.1 537.5,35.8 537.6,37.3 537.7,38.4 537.8,36.2 537.9,37.1 538.0,38.5 538.1,36.8 538.2,35.8 538.3,38.0 538.4,42.1 538.5,37.4 538.6,40.7 538.7,38.6 538.8,38.7 538.9,40.5 539.0,44.6 539.1,40.3 539.2,39.0 539.3,39.1 539.4,38.6 539.5,40.2 539.6,41.7"/>
<polyline fill="none" stroke="#D95319" stroke-width="0.9" stroke-linejoin="round" points="323.2,99.0 323.4,98.1 323.6,95.1 323.8,96.2 324.1,92.3 324.3,92.9 324.5,94.5 324.7,94.7 324.9,95.9 325.1,96.4 325.4,98.0 325.6,100.0 325.8,100.1 326.0,98.5 326.2,97.8 326.4,95.0 326.7,94.0 326.9,93.1 327.1,90.9 327.3,90.5 327.5,89.5 327.7,86.8 328.0,85.1 328.2,82.6 328.4,81.9 328.6,82.3 328.8,81.9 329.0,82.0 329.3,81.2 329.5,81.6 329.7,81.7 329.9,82.4 330.1,81.6 330.3,83.3 330.6,83.6 330.8,85.4 331.0,84.4 331.2,84.5 331.4,86.0 331.6,87.6 331.9,88.9 332.1,89.1 332.3,86.0 332.5,88.0 332.7,87.9 332.9,85.7 333.2,86.3 333.4,86.8 333.6,86.2 333.8,85.8 334.0,85.6 334.2,83.5 334.5,83.2 334.7,83.0 334.9,84.3 335.1,83.6 335.3,81.4 335.5,82.4 335.8,83.0 336.0,82.1 336.2,83.9 336.4,85.3 336.6,86.5 336.8,87.5 337.1,87.0 337.3,87.6 337.5,88.4 337.7,88.6 337.9,89.8 338.1,90.3 338.4,89.8 338.6,90.6 338.8,90.0 339.0,90.2 339.2,88.8 339.4,92.3 339.7,90.1 339.9,93.2 340.1,93.2 340.3,92.6 340.5,93.3 340.7,94.2 341.0,94.9 341.2,94.8 341.4,92.8 341.6,91.5 341.8,93.3 342.0,91.0 342.3,89.0 342.5,88.2 342.7,87.3 342.9,87.6 343.1,87.6 343.3,87.8 343.6,86.3 343.8,86.9 344.0,85.6 344.2,85.0 344.4,85.7 344.6,83.1 344.9,84.0 345.1,83.6 345.3,84.5 345.5,85.7 345.7,85.9 345.9,87.5 346.2,87.8 346.4,87.1 346.6,87.4 346.8,88.8 347.0,88.9 347.2,87.7 347.5,87.7 347.7,86.2 347.9,87.0 348.1,86.7 348.3,85.4 348.5,84.7 348.8,85.9 349.0,84.7 349.2,85.0 349.4,85.3 349.6,85.2 349.8,86.7 350.1,87.5 350.3,88.9 350.5,89.8 350.7,88.6 350.9,91.3 351.1,91.7 351.4,93.6 351.6,94.1 351.8,93.5 352.0,94.4 352.2,94.4 352.4,94.8 352.7,92.6 352.9,95.1 353.1,94.9 353.3,95.3 353.5,94.8 353.7,95.5 354.0,94.7 354.2,94.2 354.4,96.6 354.6,95.3 354.8,95.0 355.0,93.4 355.3,93.1 355.5,92.7 355.7,91.6 355.9,91.8 356.1,91.5 356.3,90.3 356.6,91.3 356.8,91.5 357.0,93.6 357.2,93.0 357.4,95.6 357.6,94.7 357.9,94.6 358.1,95.8 358.3,95.9 358.5,96.8 358.7,98.7 358.9,99.9 359.2,99.3 359.4,99.3 359.6,100.2 359.8,97.3 360.0,97.8 360.2,94.6 360.5,96.1 360.7,95.8 360.9,95.8 361.1,94.9 361.3,95.5 361.5,95.2 361.8,94.8 362.0,96.3 362.2,95.4 362.4,95.8 362.6,94.6 362.8,95.2 363.1,94.3 363.3,94.8 363.5,94.0 363.7,95.3 363.9,95.8 364.1,96.7 364.4,97.2 364.6,97.8 364.8,98.0 365.0,97.4 365.2,97.9 365.4,100.4 365.7,99.0 365.9,99.8 366.1,101.5 366.3,100.5 366.5,99.0 366.7,99.5 367.0,99.3 367.2,98.7 367.4,97.6 367.6,95.9 367.8,96.5 368.0,96.2 368.3,94.6 368.5,94.6 368.7,92.6 368.9,93.1 369.1,91.8 369.3,91.0 369.6,90.7 369.8,90.2 370.0,89.7 370.2,91.1 370.4,90.2 370.6,89.6 370.9,88.9 371.1,90.1 371.3,89.0 371.5,88.7 371.7,90.1 371.9,88.1 372.2,89.3 372.4,90.6 372.6,92.7 372.8,92.6 373.0,93.1 373.2,95.0 373.5,96.2 373.7,95.8 373.9,96.7 374.1,96.4 374.3,97.1 374.5,102.0 374.8,99.5 375.0,99.7 375.2,97.3 375.4,96.0 375.6,97.1 375.8,96.8 376.1,96.5 376.3,95.3 376.5,93.5 376.7,95.0 376.9,95.1 377.1,94.8 377.4,95.5 377.6,96.0 377.8,96.4 378.0,96.5 378.2,95.1 378.4,96.2 378.7,98.4 378.9,99.1 379.1,100.3 379.3,102.3 379.5,101.4 379.7,101.4 380.0,100.9 380.2,100.2 380.4,99.5 380.6,97.6 380.8,96.0 381.0,94.9 381.3,94.5 381.5,92.5 381.7,91.1 381.9,90.4 382.1,88.7 382.3,86.8 382.6,85.9 382.8,84.9 383.0,85.0 383.2,84.6 383.4,84.7 383.6,83.5 383.9,85.3 384.1,85.2 384.3,84.8 384.5,86.7 384.7,87.1 384.9,87.1 385.2,87.3 385.4,85.1 385.6,85.0 385.8,87.8 386.0,87.8 386.2,86.9 386.5,89.6 386.7,86.2 386.9,87.0 387.1,87.7 387.3,85.1 387.5,85.0 387.8,85.5 388.0,84.8 388.2,85.0 388.4,85.4 388.6,84.2 388.8,84.6 389.1,84.9 389.3,84.8 389.5,84.5 389.7,86.6 389.9,86.7 390.1,85.0 390.4,85.8 390.6,84.3 390.8,86.2 391.0,86.0 391.2,85.6 391.4,85.5 391.7,86.9 391.9,85.7 392.1,85.4 392.3,84.7 392.5,86.1 392.7,88.5 393.0,87.1 393.2,85.8 393.4,88.0 393.6,88.0 393.8,88.1 394.0,88.4 394.3,87.5 394.5,88.2 394.7,88.3 394.9,87.5 395.1,89.8 395.3,89.8 395.5,91.7 395.8,91.3 396.0,92.2 396.2,93.7 396.4,94.5 396.6,95.5 396.8,96.0 397.1,97.2 397.3,99.1 397.5,98.0 397.7,100.1 397.9,99.5 398.1,100.2 398.4,100.7 398.6,99.5 398.8,99.8 399.0,98.4 399.2,99.0 399.4,101.4 399.7,101.5 399.9,103.0 400.1,101.1 400.3,100.7 400.5,101.3 400.7,98.9 401.0,101.5 401.2,100.4 401.4,99.9 401.6,101.4 401.8,101.6 402.0,100.8 402.3,99.1 402.5,99.6 402.7,99.1 402.9,97.6 403.1,95.4 403.3,96.0 403.6,94.0 403.8,93.3 404.0,91.6 404.2,90.6 404.4,88.4 404.6,88.5 404.9,88.2 405.1,87.9 405.3,88.4 405.5,87.6 405.7,85.9 405.9,84.1 406.2,85.2 406.4,83.5 406.6,84.4 406.8,84.0 407.0,81.9 407.2,82.5 407.5,83.2 407.7,85.1 407.9,85.0 408.1,85.5 408.3,87.1 408.5,87.5 408.8,88.1 409.0,86.7 409.2,86.6 409.4,87.3 409.6,88.6 409.8,87.3 410.1,87.9 410.3,87.3 410.5,85.1 410.7,85.3 410.9,85.0 411.1,85.3 411.4,87.3 411.6,88.4 411.8,88.0 412.0,91.1 412.2,90.3 412.4,90.4 412.7,89.1 412.9,89.7 413.1,87.4 413.3,88.3 413.5,87.9 413.7,87.2 414.0,88.5 414.2,88.9 414.4,86.5 414.6,85.7 414.8,86.8 415.0,88.0 415.3,88.4 415.5,88.4 415.7,89.2 415.9,89.5 416.1,90.1 416.3,90.6 416.6,88.9 416.8,88.5 417.0,90.5 417.2,90.1 417.4,89.8 417.6,89.2 417.9,89.8 418.1,93.2 418.3,91.9 418.5,91.9 418.7,92.4 418.9,91.6 419.2,92.6 419.4,94.0 419.6,93.9 419.8,94.3 420.0,94.1 420.2,95.7 420.5,96.2 420.7,98.2 420.9,95.9 421.1,96.8 421.3,97.3 421.5,97.8 421.8,97.8 422.0,97.0 422.2,96.8 422.4,95.9 422.6,94.0 422.8,91.5 423.1,89.1 423.3,88.8 423.5,85.5 423.7,85.8 423.9,85.4 424.1,87.0 424.4,88.9 424.6,91.5 424.8,92.5 425.0,89.6 425.2,90.8 425.4,91.9 425.7,92.2 425.9,94.2 426.1,95.1 426.3,94.5 426.5,95.0 426.7,97.6 427.0,97.4 427.2,98.8 427.4,97.0 427.6,96.0 427.8,95.8 428.0,94.3 428.3,93.9 428.5,93.1 428.7,92.5 428.9,91.4 429.1,92.1 429.3,89.3 429.6,87.9 429.8,89.2 430.0,90.0 430.2,88.9 430.4,86.3 430.6,84.5 430.9,83.2 431.1,82.7 431.3,82.0 431.5,80.9 431.7,81.6 431.9,85.2 432.2,86.8 432.4,86.8 432.6,88.4 432.8,88.9 433.0,92.9 433.2,92.9 433.5,93.2 433.7,94.9 433.9,95.1 434.1,96.9 434.3,96.8 434.5,95.9 434.8,96.2 435.0,97.4 435.2,98.1 435.4,98.8 435.6,97.9 435.8,100.0 436.1,98.1 436.3,97.1 436.5,97.0 436.7,96.4 436.9,95.1 437.1,95.7 437.4,92.2 437.6,93.3 437.8,92.0 438.0,93.3 438.2,93.3 438.4,94.7 438.7,94.6 438.9,95.0 439.1,97.1 439.3,99.8 439.5,97.7 439.7,99.2 440.0,98.9 440.2,99.0 440.4,100.1 440.6,98.5 440.8,99.0 441.0,98.0 441.3,97.8 441.5,97.8 441.7,98.2 441.9,97.2 442.1,96.0 442.3,95.9 442.6,95.9 442.8,95.4 443.0,95.2 443.2,95.6 443.4,95.8 443.6,94.2 443.9,93.4 444.1,93.8 444.3,91.5 444.5,91.6 444.7,91.1 444.9,90.6 445.2,90.8 445.4,91.4 445.6,93.3 445.8,92.9 446.0,92.7 446.2,93.8 446.5,93.9 446.7,94.7 446.9,93.6 447.1,96.4 447.3,95.8 447.5,96.7 447.8,97.4 448.0,97.6 448.2,98.7 448.4,99.1 448.6,99.9 448.8,101.0 449.1,99.9 449.3,99.9 449.5,100.2 449.7,100.4 449.9,98.5 450.1,99.3 450.4,99.9 450.6,97.8 450.8,98.0 451.0,96.2 451.2,96.4 451.4,96.0 451.7,94.9 451.9,93.8 452.1,92.0 452.3,90.8 452.5,89.5 452.7,89.5 453.0,88.3 453.2,89.0 453.4,86.4 453.6,86.4 453.8,87.2 454.0,88.1 454.3,88.0 454.5,90.2 454.7,92.1 454.9,92.7 455.1,91.7 455.3,91.6 455.6,93.5 455.8,93.3 456.0,94.6 456.2,95.8 456.4,97.4 456.6,99.0 456.9,99.9 457.1,98.8 457.3,99.2 457.5,97.5 457.7,98.1 457.9,98.3 458.2,95.7 458.4,95.0 458.6,92.7 458.8,91.8 459.0,90.3 459.2,88.3 459.5,87.4 459.7,86.4 459.9,84.8 460.1,82.8 460.3,79.6 460.5,80.7 460.8,81.7 461.0,82.0 461.2,80.5 461.4,81.9 461.6,81.0 461.8,84.0 462.1,84.1 462.3,85.4 462.5,85.5 462.7,85.2 462.9,86.6 463.1,88.9 463.4,86.9 463.6,86.4 463.8,88.2 464.0,87.3 464.2,88.6 464.4,88.4 464.7,90.2 464.9,90.4 465.1,90.0 465.3,88.6 465.5,89.1 465.7,88.4 466.0,88.4 466.2,88.5 466.4,88.0 466.6,87.3 466.8,86.9 467.0,86.8 467.3,87.0 467.5,85.9 467.7,84.5 467.9,84.1 468.1,84.0 468.3,86.2 468.5,87.3 468.8,88.6 469.0,88.5 469.2,87.4 469.4,89.5 469.6,89.6 469.8,90.6 470.1,92.1 470.3,92.7 470.5,92.5 470.7,88.7 470.9,88.4 471.1,89.4 471.4,88.6 471.6,89.7 471.8,88.0 472.0,88.1 472.2,85.6 472.4,87.5 472.7,86.0 472.9,86.6 473.1,85.8 473.3,84.9 473.5,85.5 473.7,85.5 474.0,86.1 474.2,88.2 474.4,87.7 474.6,88.6 474.8,89.4 475.0,87.4 475.3,89.1 475.5,87.7 475.7,89.1 475.9,90.5 476.1,92.1 476.3,92.8 476.6,93.9 476.8,94.8 477.0,96.5 477.2,98.0 477.4,98.5 477.6,99.1 477.9,100.9 478.1,101.0 478.3,102.4 478.5,101.3 478.7,100.5 478.9,101.4 479.2,101.8 479.4,101.2 479.6,100.1 479.8,101.2 480.0,103.1 480.2,103.2 480.5,99.5 480.7,96.2 480.9,95.8 481.1,93.7 481.3,92.9 481.5,91.5 481.8,91.0 482.0,89.9 482.2,88.9 482.4,88.2 482.6,87.8 482.8,88.5 483.1,89.3 483.3,90.8 483.5,93.8 483.7,93.4 483.9,95.4 484.1,95.2 484.4,97.5 484.6,97.9 484.8,98.4 485.0,99.4 485.2,98.0 485.4,97.6 485.7,96.7 485.9,96.6 486.1,97.0 486.3,96.7 486.5,96.9 486.7,96.9 487.0,97.1 487.2,96.5 487.4,94.9 487.6,94.0 487.8,93.2 488.0,94.4 488.3,94.8 488.5,94.5 488.7,96.2 488.9,95.7 489.1,96.3 489.3,95.6 489.6,97.2 489.8,97.2 490.0,97.9 490.2,98.9 490.4,100.3 490.6,100.2 490.9,101.0 491.1,102.6 491.3,102.7 491.5,103.5 491.7,105.1 491.9,104.3 492.2,101.9 492.4,100.8 492.6,100.5 492.8,98.9 493.0,97.7 493.2,97.5 493.5,99.2 493.7,96.7 493.9,96.9 494.1,96.2 494.3,95.6 494.5,95.1 494.8,94.2 495.0,93.2 495.2,90.1 495.4,91.7 495.6,92.5 495.8,91.4 496.1,91.8 496.3,91.4 496.5,94.0 496.7,93.9 496.9,94.4 497.1,97.3 497.4,97.7 497.6,98.3 497.8,97.9 498.0,98.4 498.2,99.8 498.4,97.8 498.7,97.9 498.9,97.9 499.1,97.6 499.3,98.1 499.5,96.5 499.7,95.0 500.0,94.1 500.2,94.4 500.4,94.2 500.6,94.0 500.8,94.3 501.0,95.1 501.3,94.0 501.5,93.6 501.7,94.4 501.9,94.0 502.1,93.4 502.3,95.3 502.6,94.8 502.8,95.3 503.0,93.6 503.2,95.3 503.4,95.5 503.6,96.5 503.9,94.0 504.1,93.2 504.3,94.3 504.5,94.3 504.7,93.6 504.9,95.1 505.2,95.9 505.4,97.5 505.6,98.2 505.8,97.1 506.0,98.3 506.2,98.6 506.5,98.2 506.7,100.4 506.9,98.5 507.1,98.4 507.3,99.9 507.5,101.1 507.8,101.4 508.0,101.5 508.2,102.4 508.4,101.3 508.6,99.8 508.8,101.2 509.1,102.1 509.3,104.4 509.5,103.9 509.7,101.2 509.9,100.0 510.1,101.5 510.4,101.3 510.6,99.9 510.8,99.2 511.0,99.5 511.2,99.0 511.4,98.7 511.7,97.1 511.9,96.1 512.1,97.2 512.3,97.8 512.5,97.8 512.7,95.8 513.0,94.0 513.2,92.8 513.4,92.9 513.6,92.1 513.8,92.2 514.0,91.2 514.3,92.8 514.5,92.6 514.7,93.8 514.9,93.5 515.1,93.6 515.3,95.4 515.6,95.8 515.8,95.2 516.0,96.7 516.2,97.8 516.4,96.7 516.6,97.2 516.9,95.8 517.1,94.8 517.3,93.8 517.5,91.7 517.7,92.3 517.9,91.0 518.2,88.7 518.4,87.9 518.6,86.8 518.8,84.4 519.0,82.1 519.2,82.2 519.5,82.1 519.7,82.2 519.9,82.6 520.1,83.6 520.3,83.7 520.5,84.8 520.8,84.7 521.0,85.6 521.2,86.9 521.4,88.7 521.6,91.0 521.8,90.3 522.1,91.0 522.3,90.8 522.5,90.3 522.7,90.1 522.9,88.4 523.1,89.0 523.4,88.2 523.6,87.5 523.8,85.4 524.0,84.7 524.2,85.1 524.4,85.0 524.7,87.0 524.9,88.6 525.1,91.4 525.3,93.0 525.5,94.9 525.7,96.9 526.0,98.9 526.2,99.0 526.4,99.9 526.6,99.9 526.8,102.2 527.0,101.5 527.3,102.0 527.5,99.9 527.7,102.2 527.9,99.6 528.1,101.1 528.3,99.8 528.6,101.8 528.8,100.7 529.0,100.8 529.2,99.2 529.4,101.1 529.6,100.2 529.9,100.4 530.1,96.8 530.3,98.0 530.5,95.9 530.7,95.4 530.9,94.1 531.2,94.6 531.4,92.9 531.6,91.7 531.8,90.6 532.0,90.8 532.2,90.9 532.5,89.1 532.7,89.1 532.9,89.9 533.1,89.2 533.3,90.7 533.5,90.7 533.8,88.1 534.0,90.6 534.2,91.1 534.4,91.5 534.6,91.2 534.8,91.8 535.1,92.1 535.3,92.1 535.5,93.4 535.7,93.5 535.9,95.4 536.1,95.2 536.4,95.0 536.6,95.0 536.8,95.3 537.0,96.2 537.2,97.8 537.4,96.7 537.7,98.0 537.9,96.3 538.1,97.4 538.3,99.2 538.5,99.2 538.7,99.2 539.0,99.6 539.2,99.8 539.4,99.9 539.6,100.7"/>
<polyline fill="none" stroke="#EDB120" stroke-width="0.8" stroke-linejoin="round" points="323.2,104.5 323.5,104.0 323.7,104.5 324.0,104.1 324.3,105.6 324.6,106.5 324.8,107.4 325.1,107.8 325.4,108.3 325.6,108.4 325.9,108.9 326.2,108.9 326.5,108.3 326.7,108.5 327.0,107.2 327.3,106.5 327.5,105.9 327.8,105.0 328.1,105.0 328.3,103.7 328.6,104.1 328.9,104.7 329.2,104.3 329.4,103.5 329.7,103.5 330.0,103.7 330.2,104.2 330.5,104.4 330.8,103.8 331.1,104.5 331.3,104.9 331.6,105.5 331.9,104.6 332.1,105.1 332.4,104.9 332.7,104.3 333.0,104.9 333.2,104.8 333.5,105.1 333.8,105.1 334.0,104.9 334.3,105.9 334.6,105.4 334.8,104.9 335.1,105.0 335.4,104.6 335.7,104.5 335.9,104.7 336.2,103.8 336.5,104.9 336.7,104.7 337.0,104.6 337.3,104.7 337.6,105.4 337.8,105.6 338.1,104.9 338.4,105.4 338.6,104.6 338.9,104.9 339.2,105.1 339.5,106.4 339.7,107.0 340.0,106.4 340.3,107.9 340.5,107.0 340.8,106.7 341.1,106.6 341.3,106.2 341.6,106.7 341.9,106.6 342.2,105.8 342.4,106.6 342.7,105.8 343.0,105.9 343.2,104.9 343.5,104.9 343.8,105.0 344.1,104.9 344.3,104.4 344.6,105.4 344.9,104.3 345.1,104.7 345.4,104.2 345.7,103.4 346.0,103.9 346.2,104.1 346.5,104.1 346.8,104.3 347.0,103.9 347.3,104.4 347.6,104.4 347.8,105.0 348.1,104.7 348.4,105.3 348.7,105.0 348.9,105.4 349.2,106.1 349.5,105.5 349.7,105.4 350.0,106.7 350.3,106.5 350.6,106.2 350.8,106.6 351.1,107.1 351.4,107.7 351.6,107.8 351.9,107.4 352.2,107.3 352.5,107.8 352.7,107.6 353.0,107.4 353.3,107.2 353.5,106.4 353.8,106.9 354.1,106.7 354.3,107.2 354.6,107.7 354.9,107.7 355.2,107.0 355.4,107.9 355.7,107.1 356.0,107.6 356.2,107.2 356.5,106.8 356.8,107.5 357.1,107.6 357.3,107.1 357.6,107.4 357.9,106.6 358.1,107.1 358.4,107.8 358.7,109.2 359.0,109.0 359.2,108.5 359.5,108.5 359.8,108.9 360.0,108.1 360.3,108.4 360.6,107.0 360.8,106.4 361.1,106.6 361.4,106.7 361.7,106.4 361.9,106.2 362.2,105.1 362.5,105.8 362.7,106.2 363.0,106.2 363.3,106.9 363.6,106.8 363.8,107.1 364.1,108.3 364.4,107.6 364.6,108.3 364.9,108.9 365.2,109.1 365.5,109.6 365.7,110.4 366.0,110.4 366.3,110.7 366.5,110.2 366.8,109.7 367.1,109.4 367.3,108.7 367.6,109.5 367.9,108.6 368.2,107.7 368.4,107.9 368.7,106.5 369.0,106.8 369.2,107.0 369.5,106.3 369.8,106.1 370.1,105.9 370.3,106.4 370.6,106.1 370.9,106.1 371.1,106.4 371.4,107.3 371.7,107.0 372.0,107.3 372.2,107.1 372.5,106.6 372.8,107.1 373.0,106.1 373.3,107.0 373.6,107.0 373.8,107.2 374.1,107.6 374.4,106.9 374.7,107.3 374.9,107.5 375.2,107.9 375.5,108.1 375.7,108.6 376.0,108.1 376.3,109.1 376.6,109.0 376.8,109.1 377.1,108.7 377.4,108.8 377.6,109.2 377.9,108.3 378.2,108.5 378.5,108.1 378.7,107.9 379.0,108.6 379.3,108.4 379.5,109.0 379.8,108.7 380.1,108.7 380.3,109.3 380.6,108.3 380.9,108.8 381.2,107.9 381.4,108.2 381.7,108.1 382.0,107.6 382.2,107.3 382.5,106.8 382.8,106.1 383.1,106.2 383.3,105.6 383.6,106.1 383.9,105.4 384.1,106.3 384.4,105.0 384.7,105.7 385.0,105.8 385.2,105.6 385.5,106.1 385.8,106.0 386.0,106.0 386.3,106.5 386.6,107.1 386.8,105.7 387.1,106.1 387.4,106.3 387.7,106.1 387.9,105.3 388.2,104.8 388.5,105.8 388.7,105.0 389.0,105.4 389.3,104.7 389.6,105.0 389.8,104.8 390.1,105.1 390.4,104.6 390.6,104.4 390.9,104.7 391.2,103.5 391.5,104.2 391.7,104.4 392.0,104.1 392.3,104.7 392.5,104.5 392.8,104.7 393.1,105.6 393.3,105.3 393.6,104.8 393.9,105.7 394.2,104.4 394.4,104.7 394.7,104.3 395.0,105.3 395.2,104.8 395.5,105.4 395.8,105.4 396.1,105.8 396.3,106.7 396.6,106.5 396.9,107.1 397.1,106.6 397.4,107.2 397.7,108.0 398.0,108.3 398.2,107.8 398.5,108.2 398.8,108.4 399.0,108.6 399.3,108.4 399.6,108.1 399.8,107.7 400.1,108.7 400.4,109.4 400.7,108.4 400.9,108.8 401.2,108.9 401.5,109.2 401.7,109.2 402.0,107.9 402.3,107.9 402.6,108.3 402.8,107.7 403.1,107.2 403.4,107.9 403.6,106.6 403.9,107.4 404.2,106.8 404.5,106.1 404.7,106.1 405.0,105.9 405.3,106.2 405.5,105.4 405.8,105.3 406.1,105.5 406.3,105.6 406.6,105.0 406.9,106.1 407.2,105.4 407.4,105.6 407.7,105.8 408.0,106.2 408.2,106.0 408.5,105.1 408.8,105.7 409.1,105.4 409.3,106.0 409.6,105.6 409.9,107.4 410.1,106.5 410.4,106.4 410.7,106.3 411.0,105.7 411.2,105.5 411.5,106.0 411.8,106.6 412.0,106.5 412.3,106.5 412.6,105.8 412.8,105.4 413.1,105.7 413.4,106.1 413.7,105.4 413.9,104.7 414.2,105.1 414.5,105.2 414.7,105.5 415.0,105.3 415.3,105.4 415.6,104.8 415.8,105.5 416.1,105.7 416.4,105.9 416.6,105.0 416.9,105.3 417.2,104.4 417.5,105.5 417.7,105.8 418.0,105.6 418.3,105.8 418.5,105.4 418.8,106.2 419.1,105.6 419.3,105.3 419.6,104.6 419.9,104.3 420.2,105.1 420.4,105.7 420.7,106.1 421.0,106.5 421.2,106.0 421.5,106.8 421.8,107.5 422.1,108.4 422.3,109.0 422.6,108.3 422.9,109.1 423.1,108.6 423.4,108.9 423.7,108.1 424.0,108.2 424.2,106.8 424.5,107.1 424.8,106.7 425.0,106.2 425.3,105.8 425.6,105.2 425.8,106.0 426.1,106.6 426.4,107.2 426.7,106.7 426.9,108.0 427.2,108.0 427.5,108.4 427.7,108.8 428.0,108.8 428.3,108.1 428.6,108.0 428.8,108.2 429.1,107.1 429.4,105.7 429.6,106.1 429.9,106.0 430.2,105.6 430.5,105.5 430.7,104.8 431.0,104.3 431.3,103.7 431.5,103.8 431.8,104.8 432.1,105.6 432.3,105.5 432.6,106.2 432.9,106.5 433.2,107.1 433.4,107.2 433.7,107.3 434.0,107.9 434.2,108.3 434.5,108.6 434.8,109.2 435.1,108.9 435.3,108.8 435.6,108.8 435.9,108.7 436.1,108.8 436.4,108.7 436.7,108.8 437.0,109.3 437.2,109.2 437.5,108.6 437.8,109.1 438.0,109.1 438.3,109.1 438.6,109.2 438.8,109.7 439.1,109.8 439.4,108.9 439.7,109.5 439.9,109.8 440.2,108.9 440.5,109.8 440.7,109.5 441.0,109.8 441.3,109.1 441.6,108.8 441.8,109.1 442.1,108.6 442.4,108.7 442.6,108.1 442.9,109.2 443.2,108.9 443.5,107.6 443.7,107.9 444.0,107.9 444.3,108.0 444.5,108.1 444.8,107.9 445.1,107.3 445.3,106.7 445.6,107.2 445.9,107.5 446.2,107.1 446.4,108.0 446.7,107.7 447.0,107.9 447.2,107.9 447.5,107.7 447.8,108.6 448.1,108.9 448.3,108.4 448.6,109.1 448.9,108.9 449.1,109.5 449.4,109.0 449.7,108.5 450.0,107.5 450.2,107.5 450.5,107.1 450.8,107.1 451.0,106.6 451.3,106.8 451.6,106.5 451.8,106.7 452.1,106.4 452.4,105.6 452.7,104.6 452.9,104.5 453.2,104.0 453.5,104.6 453.7,105.2 454.0,105.8 454.3,105.3 454.6,104.5 454.8,105.6 455.1,105.6 455.4,105.2 455.6,105.8 455.9,107.3 456.2,106.3 456.5,107.5 456.7,107.5 457.0,106.9 457.3,107.1 457.5,107.1 457.8,105.9 458.1,105.7 458.3,104.4 458.6,105.5 458.9,104.9 459.2,105.0 459.4,105.2 459.7,105.1 460.0,104.9 460.2,104.1 460.5,104.6 460.8,104.0 461.1,103.5 461.3,103.9 461.6,104.1 461.9,104.5 462.1,104.7 462.4,104.2 462.7,104.8 463.0,104.7 463.2,104.4 463.5,104.3 463.8,105.1 464.0,105.3 464.3,105.4 464.6,105.1 464.8,105.6 465.1,104.9 465.4,105.4 465.7,105.9 465.9,106.4 466.2,106.1 466.5,105.8 466.7,106.4 467.0,106.4 467.3,106.9 467.6,106.6 467.8,106.2 468.1,106.1 468.4,106.0 468.6,106.7 468.9,106.9 469.2,106.1 469.5,106.4 469.7,107.1 470.0,107.8 470.3,107.7 470.5,108.1 470.8,107.9 471.1,108.2 471.3,107.4 471.6,106.4 471.9,106.2 472.2,106.6 472.4,105.8 472.7,105.4 473.0,106.1 473.2,106.0 473.5,105.3 473.8,104.9 474.1,104.8 474.3,105.7 474.6,106.7 474.9,105.9 475.1,106.7 475.4,107.2 475.7,107.0 476.0,106.9 476.2,107.3 476.5,107.0 476.8,108.0 477.0,108.5 477.3,108.1 477.6,108.1 477.8,108.8 478.1,108.3 478.4,108.0 478.7,107.7 478.9,106.7 479.2,106.7 479.5,107.1 479.7,106.7 480.0,106.2 480.3,106.0 480.6,105.8 480.8,105.8 481.1,104.7 481.4,105.4 481.6,104.6 481.9,105.1 482.2,104.9 482.5,105.6 482.7,106.2 483.0,105.6 483.3,105.9 483.5,106.5 483.8,106.5 484.1,107.2 484.3,106.8 484.6,108.1 484.9,108.6 485.2,108.5 485.4,108.2 485.7,109.1 486.0,108.6 486.2,108.5 486.5,108.3 486.8,107.5 487.1,108.3 487.3,108.3 487.6,107.8 487.9,107.9 488.1,107.7 488.4,108.2 488.7,108.0 489.0,107.7 489.2,107.5 489.5,108.1 489.8,108.3 490.0,107.6 490.3,108.0 490.6,108.4 490.8,108.7 491.1,108.3 491.4,108.4 491.7,107.9 491.9,107.8 492.2,107.4 492.5,107.9 492.7,108.3 493.0,109.3 493.3,108.7 493.6,109.8 493.8,109.8 494.1,110.0 494.4,109.2 494.6,109.9 494.9,109.3 495.2,109.6 495.5,109.4 495.7,109.0 496.0,108.6 496.3,108.7 496.5,108.5 496.8,108.0 497.1,106.9 497.3,106.7 497.6,107.2 497.9,107.1 498.2,106.6 498.4,107.1 498.7,107.3 499.0,106.6 499.2,107.2 499.5,107.6 499.8,107.7 500.1,107.0 500.3,108.1 500.6,107.2 500.9,107.6 501.1,108.0 501.4,107.4 501.7,108.4 502.0,107.7 502.2,108.0 502.5,107.3 502.8,108.1 503.0,108.2 503.3,108.4 503.6,108.4 503.8,108.7 504.1,108.0 504.4,109.1 504.7,108.9 504.9,110.0 505.2,109.8 505.5,110.9 505.7,110.2 506.0,110.5 506.3,110.2 506.6,110.7 506.8,109.8 507.1,110.0 507.4,109.4 507.6,108.8 507.9,109.0 508.2,109.3 508.5,109.4 508.7,109.4 509.0,109.3 509.3,109.3 509.5,108.5 509.8,107.6 510.1,108.0 510.3,108.2 510.6,107.7 510.9,107.4 511.2,107.3 511.4,108.6 511.7,108.0 512.0,107.7 512.2,107.1 512.5,107.2 512.8,106.4 513.1,106.8 513.3,106.8 513.6,106.8 513.9,107.8 514.1,107.4 514.4,107.2 514.7,107.5 515.0,108.1 515.2,108.1 515.5,107.9 515.8,108.7 516.0,108.5 516.3,108.2 516.6,108.7 516.8,108.8 517.1,108.9 517.4,108.0 517.7,107.8 517.9,106.1 518.2,106.4 518.5,106.4 518.7,105.3 519.0,105.6 519.3,104.8 519.6,104.4 519.8,103.2 520.1,104.3 520.4,104.1 520.6,104.0 520.9,104.3 521.2,104.6 521.5,105.1 521.7,105.0 522.0,105.7 522.3,106.2 522.5,106.7 522.8,106.7 523.1,105.5 523.3,105.5 523.6,105.5 523.9,106.6 524.2,105.6 524.4,104.4 524.7,104.6 525.0,105.1 525.2,104.1 525.5,104.4 525.8,105.3 526.1,105.5 526.3,106.7 526.6,106.9 526.9,106.1 527.1,106.9 527.4,107.0 527.7,106.9 528.0,108.1 528.2,108.7 528.5,108.2 528.8,108.5 529.0,108.1 529.3,108.4 529.6,108.0 529.8,108.4 530.1,108.4 530.4,108.2 530.7,107.7 530.9,108.1 531.2,108.5 531.5,107.2 531.7,107.7 532.0,108.2 532.3,108.0 532.6,107.9 532.8,108.1 533.1,108.0 533.4,107.8 533.6,107.8 533.9,107.3 534.2,107.1 534.5,106.9 534.7,107.6 535.0,107.2 535.3,107.4 535.5,107.5 535.8,108.0 536.1,107.9 536.3,107.9 536.6,107.5 536.9,107.6 537.2,107.2 537.4,108.0 537.7,107.7 538.0,107.4 538.2,107.8 538.5,108.1 538.8,107.8 539.1,108.0 539.3,107.5 539.6,108.6"/>
<polyline fill="none" stroke="#7E2F8E" stroke-width="1.0" stroke-linejoin="round" points="323.2,100.3 323.4,98.9 323.6,96.6 323.8,97.2 324.1,97.1 324.3,96.9 324.5,97.1 324.7,96.7 324.9,97.2 325.1,95.8 325.4,96.0 325.6,95.1 325.8,95.1 326.0,96.0 326.2,94.7 326.4,94.8 326.7,93.5 326.9,93.4 327.1,93.6 327.3,92.1 327.5,91.3 327.7,90.9 328.0,90.2 328.2,87.8 328.4,89.9 328.6,90.3 328.8,91.9 329.0,89.9 329.3,91.9 329.5,88.9 329.7,88.1 329.9,89.4 330.1,88.3 330.3,88.1 330.6,89.3 330.8,89.1 331.0,89.2 331.2,87.9 331.4,87.4 331.6,87.5 331.9,86.0 332.1,85.7 332.3,85.6 332.5,86.7 332.7,86.6 332.9,86.1 333.2,85.9 333.4,89.1 333.6,88.5 333.8,89.8 334.0,88.1 334.2,86.0 334.5,86.5 334.7,86.9 334.9,85.1 335.1,85.8 335.3,85.1 335.5,85.7 335.8,84.9 336.0,84.5 336.2,84.5 336.4,81.7 336.6,80.1 336.8,80.1 337.1,80.9 337.3,80.5 337.5,81.8 337.7,81.0 337.9,83.2 338.1,84.2 338.4,83.2 338.6,82.1 338.8,82.5 339.0,82.8 339.2,83.9 339.4,83.9 339.7,83.9 339.9,84.4 340.1,84.9 340.3,84.8 340.5,84.9 340.7,86.3 341.0,86.6 341.2,87.8 341.4,88.4 341.6,90.1 341.8,87.6 342.0,87.0 342.3,88.6 342.5,86.2 342.7,86.1 342.9,86.0 343.1,85.7 343.3,83.7 343.6,84.7 343.8,83.6 344.0,81.7 344.2,80.1 344.4,79.5 344.6,79.5 344.9,78.3 345.1,78.9 345.3,77.4 345.5,76.8 345.7,77.4 345.9,77.1 346.2,78.6 346.4,79.0 346.6,80.4 346.8,80.9 347.0,84.1 347.2,83.9 347.5,82.4 347.7,82.1 347.9,80.7 348.1,81.9 348.3,82.9 348.5,82.2 348.8,82.2 349.0,82.0 349.2,81.9 349.4,82.4 349.6,80.7 349.8,79.5 350.1,80.7 350.3,82.4 350.5,81.6 350.7,82.0 350.9,81.1 351.1,81.1 351.4,84.2 351.6,83.8 351.8,84.3 352.0,86.3 352.2,89.5 352.4,89.4 352.7,89.2 352.9,88.6 353.1,88.3 353.3,87.8 353.5,87.5 353.7,87.8 354.0,88.6 354.2,87.5 354.4,89.3 354.6,88.1 354.8,87.7 355.0,89.3 355.3,89.3 355.5,88.1 355.7,88.0 355.9,88.4 356.1,87.6 356.3,88.1 356.6,88.3 356.8,87.2 357.0,87.5 357.2,85.7 357.4,85.5 357.6,85.1 357.9,84.0 358.1,85.3 358.3,84.1 358.5,85.6 358.7,87.6 358.9,88.0 359.2,91.4 359.4,90.8 359.6,92.1 359.8,90.6 360.0,92.0 360.2,92.6 360.5,92.3 360.7,91.4 360.9,92.4 361.1,91.2 361.3,92.9 361.5,91.8 361.8,93.3 362.0,90.8 362.2,90.8 362.4,89.7 362.6,87.5 362.8,88.5 363.1,88.3 363.3,88.0 363.5,87.5 363.7,87.8 363.9,91.6 364.1,89.4 364.4,91.6 364.6,93.7 364.8,94.0 365.0,94.1 365.2,94.3 365.4,95.3 365.7,96.6 365.9,98.2 366.1,98.5 366.3,98.4 366.5,96.7 366.7,97.5 367.0,97.1 367.2,95.3 367.4,94.2 367.6,93.5 367.8,95.2 368.0,98.0 368.3,96.2 368.5,95.5 368.7,95.8 368.9,92.5 369.1,92.3 369.3,90.5 369.6,88.8 369.8,89.0 370.0,87.5 370.2,86.7 370.4,87.2 370.6,84.8 370.9,83.2 371.1,81.7 371.3,79.7 371.5,79.7 371.7,77.2 371.9,77.8 372.2,78.4 372.4,77.9 372.6,78.1 372.8,80.2 373.0,80.3 373.2,82.6 373.5,84.7 373.7,86.4 373.9,85.7 374.1,85.9 374.3,87.8 374.5,89.0 374.8,90.5 375.0,93.8 375.2,94.0 375.4,91.7 375.6,90.3 375.8,90.7 376.1,90.2 376.3,88.4 376.5,89.6 376.7,89.1 376.9,89.0 377.1,89.5 377.4,90.9 377.6,91.3 377.8,91.4 378.0,93.5 378.2,94.3 378.4,95.8 378.7,95.1 378.9,96.1 379.1,96.9 379.3,98.0 379.5,97.6 379.7,98.0 380.0,98.2 380.2,98.6 380.4,98.2 380.6,99.1 380.8,98.5 381.0,97.4 381.3,97.0 381.5,97.1 381.7,95.9 381.9,93.3 382.1,92.8 382.3,92.5 382.6,90.5 382.8,90.4 383.0,90.4 383.2,90.5 383.4,90.9 383.6,91.5 383.9,90.4 384.1,89.7 384.3,88.4 384.5,90.0 384.7,88.3 384.9,89.0 385.2,89.3 385.4,86.8 385.6,86.4 385.8,89.5 386.0,87.9 386.2,87.8 386.5,89.1 386.7,86.9 386.9,89.1 387.1,86.3 387.3,85.9 387.5,87.1 387.8,87.4 388.0,88.9 388.2,88.8 388.4,87.8 388.6,87.2 388.8,89.2 389.1,87.6 389.3,86.7 389.5,87.0 389.7,87.4 389.9,86.7 390.1,85.5 390.4,85.2 390.6,84.7 390.8,84.8 391.0,85.1 391.2,85.2 391.4,85.5 391.7,88.0 391.9,85.9 392.1,88.5 392.3,87.6 392.5,86.9 392.7,88.1 393.0,86.9 393.2,85.1 393.4,83.9 393.6,82.7 393.8,83.1 394.0,84.3 394.3,83.2 394.5,81.1 394.7,81.7 394.9,79.7 395.1,77.6 395.3,79.3 395.5,79.2 395.8,81.5 396.0,81.9 396.2,83.6 396.4,84.6 396.6,87.1 396.8,85.9 397.1,87.7 397.3,89.5 397.5,90.6 397.7,89.4 397.9,90.7 398.1,90.9 398.4,91.2 398.6,91.0 398.8,90.1 399.0,90.0 399.2,90.5 399.4,91.1 399.7,92.9 399.9,93.9 400.1,95.5 400.3,96.3 400.5,95.8 400.7,97.0 401.0,95.4 401.2,95.5 401.4,97.2 401.6,96.9 401.8,97.1 402.0,98.8 402.3,100.9 402.5,99.1 402.7,98.5 402.9,99.2 403.1,98.9 403.3,97.8 403.6,98.5 403.8,97.9 404.0,97.9 404.2,96.9 404.4,97.3 404.6,97.2 404.9,96.5 405.1,94.4 405.3,93.2 405.5,90.6 405.7,92.1 405.9,90.7 406.2,88.6 406.4,88.8 406.6,89.2 406.8,88.9 407.0,87.8 407.2,88.6 407.5,87.5 407.7,87.0 407.9,86.6 408.1,87.6 408.3,88.0 408.5,86.9 408.8,86.2 409.0,85.9 409.2,86.1 409.4,86.3 409.6,86.5 409.8,86.8 410.1,88.4 410.3,88.5 410.5,86.7 410.7,86.4 410.9,85.6 411.1,85.9 411.4,86.3 411.6,87.6 411.8,86.2 412.0,86.3 412.2,86.9 412.4,88.2 412.7,88.8 412.9,89.1 413.1,89.0 413.3,87.3 413.5,88.3 413.7,87.8 414.0,87.6 414.2,87.4 414.4,87.3 414.6,86.7 414.8,84.9 415.0,85.7 415.3,86.0 415.5,86.8 415.7,86.1 415.9,86.7 416.1,86.2 416.3,86.3 416.6,84.2 416.8,83.9 417.0,84.9 417.2,85.5 417.4,84.5 417.6,84.3 417.9,84.2 418.1,84.0 418.3,84.0 418.5,83.6 418.7,83.6 418.9,82.8 419.2,84.0 419.4,83.5 419.6,84.5 419.8,83.9 420.0,84.3 420.2,83.7 420.5,84.3 420.7,85.7 420.9,85.6 421.1,86.0 421.3,88.0 421.5,88.5 421.8,90.5 422.0,88.3 422.2,89.5 422.4,88.8 422.6,88.5 422.8,87.1 423.1,87.6 423.3,88.2 423.5,88.3 423.7,87.2 423.9,85.8 424.1,84.1 424.4,85.1 424.6,86.9 424.8,86.3 425.0,87.4 425.2,87.6 425.4,90.8 425.7,90.0 425.9,92.5 426.1,92.1 426.3,91.8 426.5,93.6 426.7,92.4 427.0,92.2 427.2,91.2 427.4,91.0 427.6,91.6 427.8,91.0 428.0,90.0 428.3,90.6 428.5,91.6 428.7,89.6 428.9,90.2 429.1,89.2 429.3,90.1 429.6,88.3 429.8,88.3 430.0,86.4 430.2,85.9 430.4,84.0 430.6,84.2 430.9,84.8 431.1,87.4 431.3,86.0 431.5,87.9 431.7,88.8 431.9,91.4 432.2,91.6 432.4,93.3 432.6,93.1 432.8,94.1 433.0,95.4 433.2,94.7 433.5,95.0 433.7,94.3 433.9,94.9 434.1,93.3 434.3,93.3 434.5,93.2 434.8,94.0 435.0,94.4 435.2,92.8 435.4,92.4 435.6,93.1 435.8,92.8 436.1,92.0 436.3,92.0 436.5,92.9 436.7,92.4 436.9,91.4 437.1,90.6 437.4,88.9 437.6,88.0 437.8,88.7 438.0,90.7 438.2,88.2 438.4,89.0 438.7,89.0 438.9,88.2 439.1,88.4 439.3,88.7 439.5,88.3 439.7,88.2 440.0,88.8 440.2,91.2 440.4,90.6 440.6,90.1 440.8,89.3 441.0,91.4 441.3,91.6 441.5,92.2 441.7,91.2 441.9,92.7 442.1,94.4 442.3,94.3 442.6,94.0 442.8,93.5 443.0,94.8 443.2,95.3 443.4,94.2 443.6,95.4 443.9,94.9 444.1,93.3 444.3,94.4 444.5,91.8 444.7,93.0 444.9,91.7 445.2,93.6 445.4,92.8 445.6,94.4 445.8,93.3 446.0,93.7 446.2,92.8 446.5,91.1 446.7,90.1 446.9,89.5 447.1,89.7 447.3,91.6 447.5,92.4 447.8,91.2 448.0,91.0 448.2,90.9 448.4,93.2 448.6,92.0 448.8,90.5 449.1,89.4 449.3,90.8 449.5,93.1 449.7,92.0 449.9,93.9 450.1,94.4 450.4,95.9 450.6,93.8 450.8,92.8 451.0,92.3 451.2,93.4 451.4,91.7 451.7,91.0 451.9,92.4 452.1,90.6 452.3,89.8 452.5,86.9 452.7,86.7 453.0,87.4 453.2,86.9 453.4,84.6 453.6,82.5 453.8,84.3 454.0,85.7 454.3,86.0 454.5,84.3 454.7,86.1 454.9,86.5 455.1,87.5 455.3,88.6 455.6,86.3 455.8,87.3 456.0,87.9 456.2,88.2 456.4,88.8 456.6,87.9 456.9,89.8 457.1,89.8 457.3,91.0 457.5,92.5 457.7,92.5 457.9,93.6 458.2,95.2 458.4,94.6 458.6,94.7 458.8,92.7 459.0,93.3 459.2,92.8 459.5,92.5 459.7,93.2 459.9,90.5 460.1,91.3 460.3,90.1 460.5,89.9 460.8,89.1 461.0,88.3 461.2,86.6 461.4,87.3 461.6,86.9 461.8,85.5 462.1,86.2 462.3,87.8 462.5,86.4 462.7,86.1 462.9,84.9 463.1,85.5 463.4,85.4 463.6,86.8 463.8,87.5 464.0,89.6 464.2,88.5 464.4,87.8 464.7,88.3 464.9,87.1 465.1,87.6 465.3,87.7 465.5,86.1 465.7,86.2 466.0,86.5 466.2,87.7 466.4,86.9 466.6,88.6 466.8,87.9 467.0,88.5 467.3,86.2 467.5,86.1 467.7,85.0 467.9,85.3 468.1,84.4 468.3,84.9 468.5,84.4 468.8,84.4 469.0,85.4 469.2,84.0 469.4,84.5 469.6,84.9 469.8,84.4 470.1,87.0 470.3,85.7 470.5,85.7 470.7,85.0 470.9,85.6 471.1,86.4 471.4,86.6 471.6,86.4 471.8,85.7 472.0,87.6 472.2,86.7 472.4,85.3 472.7,85.2 472.9,86.6 473.1,84.2 473.3,83.7 473.5,85.3 473.7,86.6 474.0,88.6 474.2,87.0 474.4,86.5 474.6,86.7 474.8,84.8 475.0,82.8 475.3,84.6 475.5,85.0 475.7,85.2 475.9,87.3 476.1,89.3 476.3,90.9 476.6,89.5 476.8,91.5 477.0,92.0 477.2,92.4 477.4,93.7 477.6,93.7 477.9,94.2 478.1,94.1 478.3,91.8 478.5,92.5 478.7,94.4 478.9,92.5 479.2,93.7 479.4,94.8 479.6,94.6 479.8,94.3 480.0,94.6 480.2,94.7 480.5,94.2 480.7,95.4 480.9,94.8 481.1,95.9 481.3,94.7 481.5,94.5 481.8,93.2 482.0,92.5 482.2,92.8 482.4,93.9 482.6,93.7 482.8,94.4 483.1,91.9 483.3,91.6 483.5,91.3 483.7,93.7 483.9,92.4 484.1,91.6 484.4,91.7 484.6,91.9 484.8,91.7 485.0,91.6 485.2,91.0 485.4,91.6 485.7,89.4 485.9,91.5 486.1,91.6 486.3,91.5 486.5,90.9 486.7,91.8 487.0,91.2 487.2,92.1 487.4,93.1 487.6,91.9 487.8,93.3 488.0,93.1 488.3,92.3 488.5,92.2 488.7,92.0 488.9,93.1 489.1,92.8 489.3,94.4 489.6,95.0 489.8,95.6 490.0,95.6 490.2,96.4 490.4,96.6 490.6,95.8 490.9,94.7 491.1,94.7 491.3,94.0 491.5,93.8 491.7,94.5 491.9,93.2 492.2,94.2 492.4,93.7 492.6,93.9 492.8,93.9 493.0,93.0 493.2,92.5 493.5,90.7 493.7,91.5 493.9,91.8 494.1,92.2 494.3,91.6 494.5,93.3 494.8,92.1 495.0,92.9 495.2,93.5 495.4,92.3 495.6,92.2 495.8,91.8 496.1,92.5 496.3,92.9 496.5,92.7 496.7,92.9 496.9,91.9 497.1,93.0 497.4,93.1 497.6,94.6 497.8,94.0 498.0,94.6 498.2,95.2 498.4,96.3 498.7,96.0 498.9,96.2 499.1,95.4 499.3,96.2 499.5,94.7 499.7,94.2 500.0,93.6 500.2,91.5 500.4,92.7 500.6,92.9 500.8,91.2 501.0,92.4 501.3,93.2 501.5,92.8 501.7,93.6 501.9,94.1 502.1,94.3 502.3,93.9 502.6,93.9 502.8,95.3 503.0,94.7 503.2,94.7 503.4,93.3 503.6,92.7 503.9,91.9 504.1,91.9 504.3,90.3 504.5,92.2 504.7,92.9 504.9,92.8 505.2,90.9 505.4,92.1 505.6,91.1 505.8,90.8 506.0,92.7 506.2,91.5 506.5,92.2 506.7,91.2 506.9,92.4 507.1,92.0 507.3,91.2 507.5,92.0 507.8,91.5 508.0,91.2 508.2,94.7 508.4,93.7 508.6,93.8 508.8,94.3 509.1,95.2 509.3,93.9 509.5,95.2 509.7,95.1 509.9,93.0 510.1,92.9 510.4,92.1 510.6,91.5 510.8,92.9 511.0,93.1 511.2,93.3 511.4,92.1 511.7,91.0 511.9,91.5 512.1,90.4 512.3,89.4 512.5,91.2 512.7,89.0 513.0,91.0 513.2,90.9 513.4,90.0 513.6,92.5 513.8,92.4 514.0,92.9 514.3,90.3 514.5,91.9 514.7,91.5 514.9,90.9 515.1,91.7 515.3,91.6 515.6,90.5 515.8,92.2 516.0,92.0 516.2,91.5 516.4,92.9 516.6,92.3 516.9,92.3 517.1,94.9 517.3,94.5 517.5,94.4 517.7,93.3 517.9,92.8 518.2,92.1 518.4,91.2 518.6,90.7 518.8,89.7 519.0,88.2 519.2,85.9 519.5,84.9 519.7,83.8 519.9,82.7 520.1,83.4 520.3,85.3 520.5,84.9 520.8,86.5 521.0,87.9 521.2,88.3 521.4,88.1 521.6,88.5 521.8,88.2 522.1,88.2 522.3,86.3 522.5,86.8 522.7,88.5 522.9,88.8 523.1,88.0 523.4,87.7 523.6,88.4 523.8,88.8 524.0,89.5 524.2,89.9 524.4,90.3 524.7,89.9 524.9,91.2 525.1,88.6 525.3,89.2 525.5,90.8 525.7,90.6 526.0,92.3 526.2,93.8 526.4,95.6 526.6,96.1 526.8,97.1 527.0,98.3 527.3,99.6 527.5,98.7 527.7,97.2 527.9,95.9 528.1,95.9 528.3,96.4 528.6,96.4 528.8,96.6 529.0,94.9 529.2,95.8 529.4,93.6 529.6,93.2 529.9,93.9 530.1,94.0 530.3,93.9 530.5,93.9 530.7,93.7 530.9,94.1 531.2,95.1 531.4,94.0 531.6,93.5 531.8,93.3 532.0,93.9 532.2,92.6 532.5,92.1 532.7,92.2 532.9,91.4 533.1,91.2 533.3,91.7 533.5,90.2 533.8,89.2 534.0,90.4 534.2,89.1 534.4,89.6 534.6,90.3 534.8,92.0 535.1,91.8 535.3,92.3 535.5,93.6 535.7,91.5 535.9,92.5 536.1,93.6 536.4,94.8 536.6,93.6 536.8,93.1 537.0,92.8 537.2,93.4 537.4,92.5 537.7,95.4 537.9,92.6 538.1,92.3 538.3,90.2 538.5,92.5 538.7,92.3 539.0,93.3 539.2,92.2 539.4,93.1 539.6,90.8"/>
<rect x="523.8" y="10.9" width="12.80" height="21.30" fill="#fff" stroke="#d6d6d6" stroke-width="0.6"/>
<line x1="524.2" y1="14.40" x2="532.0" y2="14.40" stroke="#0072BD" stroke-width="0.55" opacity="0.85"/>
<text x="533.00" y="15.72" font-size="3.4" text-anchor="start" fill="#2a2a2a" font-family='"Liberation Sans", sans-serif' font-weight="normal">S</text>
<line x1="524.2" y1="19.40" x2="532.0" y2="19.40" stroke="#D95319" stroke-width="0.55" opacity="0.85"/>
<text x="533.00" y="20.72" font-size="3.4" text-anchor="start" fill="#2a2a2a" font-family='"Liberation Sans", sans-serif' font-weight="normal">I</text>
<line x1="524.2" y1="24.40" x2="532.0" y2="24.40" stroke="#EDB120" stroke-width="0.55" opacity="0.85"/>
<text x="533.00" y="25.72" font-size="3.4" text-anchor="start" fill="#2a2a2a" font-family='"Liberation Sans", sans-serif' font-weight="normal">Q</text>
<line x1="524.2" y1="29.40" x2="532.0" y2="29.40" stroke="#7E2F8E" stroke-width="0.55" opacity="0.85"/>
<text x="533.00" y="30.72" font-size="3.4" text-anchor="start" fill="#2a2a2a" font-family='"Liberation Sans", sans-serif' font-weight="normal">R</text>
<path d="M66.00 249.30V249.23H67.25V249.30ZM67.25 249.30V249.11H68.50V249.30ZM68.50 249.30V249.00H69.75V249.30ZM69.75 249.30V249.01H71.00V249.30ZM71.00 249.30V248.86H72.25V249.30ZM72.25 249.30V248.81H73.50V249.30ZM73.50 249.30V248.76H74.75V249.30ZM74.75 249.30V248.57H76.00V249.30ZM76.00 249.30V248.36H77.25V249.30ZM77.25 249.30V248.30H78.50V249.30ZM78.50 249.30V248.10H79.75V249.30ZM79.75 249.30V247.64H81.00V249.30ZM81.00 249.30V247.01H82.25V249.30ZM82.25 249.30V246.58H83.50V249.30ZM83.50 249.30V246.56H84.75V249.30ZM84.75 249.30V245.96H86.00V249.30ZM86.00 249.30V244.69H87.25V249.30ZM87.25 249.30V243.58H88.50V249.30ZM88.50 249.30V242.55H89.75V249.30ZM89.75 249.30V241.28H91.00V249.30ZM91.00 249.30V235.60H92.25V249.30ZM92.25 249.30V239.24H93.50V249.30ZM93.50 249.30V236.22H94.75V249.30ZM94.75 249.30V231.29H96.00V249.30ZM96.00 249.30V228.44H97.25V249.30ZM97.25 249.30V225.26H98.50V249.30ZM98.50 249.30V220.89H99.75V249.30ZM99.75 249.30V221.65H101.00V249.30ZM101.00 249.30V217.29H102.25V249.30ZM102.25 249.30V215.02H103.50V249.30ZM103.50 249.30V209.55H104.75V249.30ZM104.75 249.30V207.94H106.00V249.30ZM106.00 249.30V204.72H107.25V249.30ZM107.25 249.30V203.12H108.50V249.30ZM108.50 249.30V197.68H109.75V249.30ZM109.75 249.30V194.38H111.00V249.30ZM111.00 249.30V190.35H112.25V249.30ZM112.25 249.30V182.11H113.50V249.30ZM113.50 249.30V196.02H114.75V249.30ZM114.75 249.30V177.75H116.00V249.30ZM116.00 249.30V185.37H117.25V249.30ZM117.25 249.30V190.11H118.50V249.30ZM118.50 249.30V175.90H119.75V249.30ZM119.75 249.30V181.44H121.00V249.30ZM121.00 249.30V180.50H122.25V249.30ZM122.25 249.30V188.96H123.50V249.30ZM123.50 249.30V182.13H124.75V249.30ZM124.75 249.30V183.60H126.00V249.30ZM126.00 249.30V195.42H127.25V249.30ZM127.25 249.30V193.91H128.50V249.30ZM128.50 249.30V185.52H129.75V249.30ZM129.75 249.30V186.60H131.00V249.30ZM131.00 249.30V186.18H132.25V249.30ZM132.25 249.30V190.66H133.50V249.30ZM133.50 249.30V192.95H134.75V249.30ZM134.75 249.30V196.21H136.00V249.30ZM136.00 249.30V195.78H137.25V249.30ZM137.25 249.30V208.62H138.50V249.30ZM138.50 249.30V209.62H139.75V249.30ZM139.75 249.30V211.24H141.00V249.30ZM141.00 249.30V220.66H142.25V249.30ZM142.25 249.30V215.52H143.50V249.30ZM143.50 249.30V223.55H144.75V249.30ZM144.75 249.30V223.35H146.00V249.30ZM146.00 249.30V219.96H147.25V249.30ZM147.25 249.30V227.77H148.50V249.30ZM148.50 249.30V228.39H149.75V249.30ZM149.75 249.30V226.63H151.00V249.30ZM151.00 249.30V233.24H152.25V249.30ZM152.25 249.30V233.55H153.50V249.30ZM153.50 249.30V233.51H154.75V249.30ZM154.75 249.30V236.05H156.00V249.30ZM156.00 249.30V238.85H157.25V249.30ZM157.25 249.30V241.02H158.50V249.30ZM158.50 249.30V241.25H159.75V249.30ZM159.75 249.30V242.41H161.00V249.30ZM161.00 249.30V243.68H162.25V249.30ZM162.25 249.30V245.20H163.50V249.30ZM163.50 249.30V245.87H164.75V249.30ZM164.75 249.30V246.53H166.00V249.30ZM166.00 249.30V246.08H167.25V249.30ZM167.25 249.30V247.03H168.50V249.30ZM168.50 249.30V246.72H169.75V249.30ZM169.75 249.30V246.81H171.00V249.30ZM171.00 249.30V247.60H172.25V249.30ZM172.25 249.30V247.78H173.50V249.30ZM173.50 249.30V247.99H174.75V249.30ZM174.75 249.30V248.11H176.00V249.30ZM176.00 249.30V248.48H177.25V249.30ZM177.25 249.30V248.46H178.50V249.30ZM178.50 249.30V248.53H179.75V249.30ZM179.75 249.30V248.55H181.00V249.30ZM181.00 249.30V248.49H182.25V249.30ZM182.25 249.30V248.67H183.50V249.30ZM183.50 249.30V248.65H184.75V249.30ZM184.75 249.30V248.68H186.00V249.30ZM186.00 249.30V248.69H187.25V249.30ZM187.25 249.30V248.84H188.50V249.30ZM188.50 249.30V248.77H189.75V249.30ZM189.75 249.30V248.85H191.00V249.30ZM191.00 249.30V248.87H192.25V249.30ZM192.25 249.30V248.94H193.50V249.30ZM193.50 249.30V249.03H194.75V249.30ZM194.75 249.30V249.02H196.00V249.30ZM196.00 249.30V248.99H197.25V249.30ZM197.25 249.30V249.02H198.50V249.30ZM198.50 249.30V249.03H199.75V249.30ZM199.75 249.30V248.99H201.00V249.30ZM201.00 249.30V248.99H202.25V249.30ZM202.25 249.30V249.05H203.50V249.30ZM203.50 249.30V249.01H204.75V249.30ZM204.75 249.30V249.10H206.00V249.30ZM206.00 249.30V249.11H207.25V249.30ZM207.25 249.30V249.06H208.50V249.30ZM208.50 249.30V249.09H209.75V249.30ZM209.75 249.30V249.08H211.00V249.30ZM211.00 249.30V249.08H212.25V249.30ZM212.25 249.30V249.11H213.50V249.30ZM213.50 249.30V249.13H214.75V249.30ZM214.75 249.30V249.17H216.00V249.30Z" fill="#2e2574"/>
<rect x="51.60" y="164.80" width="198.90" height="84.50" fill="none" stroke="#d9d9d9" stroke-width="0.9"/>
<line x1="51.60" y1="249.30" x2="51.60" y2="247.10" stroke="#bdbdbd" stroke-width="0.7"/>
<line x1="51.60" y1="164.80" x2="51.60" y2="167.00" stroke="#bdbdbd" stroke-width="0.7"/>
<line x1="101.33" y1="249.30" x2="101.33" y2="247.10" stroke="#bdbdbd" stroke-width="0.7"/>
<line x1="101.33" y1="164.80" x2="101.33" y2="167.00" stroke="#bdbdbd" stroke-width="0.7"/>
<line x1="151.05" y1="249.30" x2="151.05" y2="247.10" stroke="#bdbdbd" stroke-width="0.7"/>
<line x1="151.05" y1="164.80" x2="151.05" y2="167.00" stroke="#bdbdbd" stroke-width="0.7"/>
<line x1="200.78" y1="249.30" x2="200.78" y2="247.10" stroke="#bdbdbd" stroke-width="0.7"/>
<line x1="200.78" y1="164.80" x2="200.78" y2="167.00" stroke="#bdbdbd" stroke-width="0.7"/>
<line x1="250.50" y1="249.30" x2="250.50" y2="247.10" stroke="#bdbdbd" stroke-width="0.7"/>
<line x1="250.50" y1="164.80" x2="250.50" y2="167.00" stroke="#bdbdbd" stroke-width="0.7"/>
<line x1="51.60" y1="249.30" x2="53.80" y2="249.30" stroke="#bdbdbd" stroke-width="0.7"/>
<line x1="250.50" y1="249.30" x2="248.30" y2="249.30" stroke="#bdbdbd" stroke-width="0.7"/>
<line x1="51.60" y1="221.13" x2="53.80" y2="221.13" stroke="#bdbdbd" stroke-width="0.7"/>
<line x1="250.50" y1="221.13" x2="248.30" y2="221.13" stroke="#bdbdbd" stroke-width="0.7"/>
<line x1="51.60" y1="192.97" x2="53.80" y2="192.97" stroke="#bdbdbd" stroke-width="0.7"/>
<line x1="250.50" y1="192.97" x2="248.30" y2="192.97" stroke="#bdbdbd" stroke-width="0.7"/>
<line x1="51.60" y1="164.80" x2="53.80" y2="164.80" stroke="#bdbdbd" stroke-width="0.7"/>
<line x1="250.50" y1="164.80" x2="248.30" y2="164.80" stroke="#bdbdbd" stroke-width="0.7"/>
<text x="51.60" y="258.80" font-size="6.7" text-anchor="middle" fill="#2a2a2a" font-family='"Liberation Sans", sans-serif' font-weight="normal">1</text>
<text x="101.33" y="258.80" font-size="6.7" text-anchor="middle" fill="#2a2a2a" font-family='"Liberation Sans", sans-serif' font-weight="normal">1.5</text>
<text x="151.05" y="258.80" font-size="6.7" text-anchor="middle" fill="#2a2a2a" font-family='"Liberation Sans", sans-serif' font-weight="normal">2</text>
<text x="200.78" y="258.80" font-size="6.7" text-anchor="middle" fill="#2a2a2a" font-family='"Liberation Sans", sans-serif' font-weight="normal">2.5</text>
<text x="250.50" y="258.80" font-size="6.7" text-anchor="middle" fill="#2a2a2a" font-family='"Liberation Sans", sans-serif' font-weight="normal">3</text>
<text x="49.90" y="251.93" font-size="6.5" text-anchor="end" fill="#2a2a2a" font-family='"Liberation Sans", sans-serif' font-weight="normal">0</text>
<text x="49.90" y="223.76" font-size="6.5" text-anchor="end" fill="#2a2a2a" font-family='"Liberation Sans", sans-serif' font-weight="normal">1</text>
<text x="49.90" y="195.59" font-size="6.5" text-anchor="end" fill="#2a2a2a" font-family='"Liberation Sans", sans-serif' font-weight="normal">2</text>
<text x="49.90" y="167.43" font-size="6.5" text-anchor="end" fill="#2a2a2a" font-family='"Liberation Sans", sans-serif' font-weight="normal">3</text>
<text transform="translate(40.20,207.30) rotate(-90)" x="0" y="2.76" font-size="7.7" text-anchor="middle" fill="#2a2a2a" font-family='"Liberation Sans", sans-serif' font-weight="normal">Density</text>
<text x="151.20" y="268.45" font-size="7.4" text-anchor="middle" fill="#2a2a2a" font-family='"Liberation Sans", sans-serif' font-weight="normal">S</text>
<text x="145.10" y="283.25" font-size="11" text-anchor="middle" fill="#2a2a2a" font-family='"Liberation Serif", serif' font-weight="bold">(c)</text>
<path d="M350.80 249.30V248.98H352.10V249.30ZM352.10 249.30V248.26H353.40V249.30ZM353.40 249.30V247.57H354.70V249.30ZM354.70 249.30V246.01H356.00V249.30ZM356.00 249.30V245.28H357.30V249.30ZM357.30 249.30V242.98H358.60V249.30ZM358.60 249.30V241.41H359.90V249.30ZM359.90 249.30V239.96H361.20V249.30ZM361.20 249.30V233.43H362.50V249.30ZM362.50 249.30V234.53H363.80V249.30ZM363.80 249.30V229.78H365.10V249.30ZM365.10 249.30V225.59H366.40V249.30ZM366.40 249.30V228.15H367.70V249.30ZM367.70 249.30V220.25H369.00V249.30ZM369.00 249.30V221.21H370.30V249.30ZM370.30 249.30V215.48H371.60V249.30ZM371.60 249.30V217.99H372.90V249.30ZM372.90 249.30V213.56H374.20V249.30ZM374.20 249.30V199.76H375.50V249.30ZM375.50 249.30V198.36H376.80V249.30ZM376.80 249.30V196.48H378.10V249.30ZM378.10 249.30V190.56H379.40V249.30ZM379.40 249.30V188.06H380.70V249.30ZM380.70 249.30V194.29H382.00V249.30ZM382.00 249.30V197.80H383.30V249.30ZM383.30 249.30V180.00H384.60V249.30ZM384.60 249.30V191.91H385.90V249.30ZM385.90 249.30V193.03H387.20V249.30ZM387.20 249.30V181.38H388.50V249.30ZM388.50 249.30V170.00H389.80V249.30ZM389.80 249.30V174.29H391.10V249.30ZM391.10 249.30V171.43H392.40V249.30ZM392.40 249.30V165.50H393.70V249.30ZM393.70 249.30V175.75H395.00V249.30ZM395.00 249.30V174.81H396.30V249.30ZM396.30 249.30V171.50H397.60V249.30ZM397.60 249.30V180.05H398.90V249.30ZM398.90 249.30V176.85H400.20V249.30ZM400.20 249.30V183.56H401.50V249.30ZM401.50 249.30V185.20H402.80V249.30ZM402.80 249.30V185.37H404.10V249.30ZM404.10 249.30V180.39H405.40V249.30ZM405.40 249.30V190.15H406.70V249.30ZM406.70 249.30V197.78H408.00V249.30ZM408.00 249.30V202.79H409.30V249.30ZM409.30 249.30V203.33H410.60V249.30ZM410.60 249.30V196.65H411.90V249.30ZM411.90 249.30V219.51H413.20V249.30ZM413.20 249.30V207.89H414.50V249.30ZM414.50 249.30V211.06H415.80V249.30ZM415.80 249.30V211.15H417.10V249.30ZM417.10 249.30V219.47H418.40V249.30ZM418.40 249.30V212.24H419.70V249.30ZM419.70 249.30V217.68H421.00V249.30ZM421.00 249.30V222.56H422.30V249.30ZM422.30 249.30V224.22H423.60V249.30ZM423.60 249.30V228.01H424.90V249.30ZM424.90 249.30V228.43H426.20V249.30ZM426.20 249.30V230.45H427.50V249.30ZM427.50 249.30V230.33H428.80V249.30ZM428.80 249.30V232.68H430.10V249.30ZM430.10 249.30V234.52H431.40V249.30ZM431.40 249.30V234.67H432.70V249.30ZM432.70 249.30V235.76H434.00V249.30ZM434.00 249.30V237.15H435.30V249.30ZM435.30 249.30V240.45H436.60V249.30ZM436.60 249.30V239.89H437.90V249.30ZM437.90 249.30V242.68H439.20V249.30ZM439.20 249.30V243.60H440.50V249.30ZM440.50 249.30V243.76H441.80V249.30ZM441.80 249.30V243.83H443.10V249.30ZM443.10 249.30V243.81H444.40V249.30ZM444.40 249.30V245.70H445.70V249.30ZM445.70 249.30V245.27H447.00V249.30ZM447.00 249.30V245.97H448.30V249.30ZM448.30 249.30V246.47H449.60V249.30ZM449.60 249.30V246.35H450.90V249.30ZM450.90 249.30V246.40H452.20V249.30ZM452.20 249.30V246.44H453.50V249.30ZM453.50 249.30V247.23H454.80V249.30ZM454.80 249.30V247.87H456.10V249.30ZM456.10 249.30V248.15H457.40V249.30ZM457.40 249.30V248.19H458.70V249.30ZM458.70 249.30V248.14H460.00V249.30ZM460.00 249.30V248.48H461.30V249.30ZM461.30 249.30V248.64H462.60V249.30ZM462.60 249.30V248.57H463.90V249.30ZM463.90 249.30V248.65H465.20V249.30ZM465.20 249.30V248.63H466.50V249.30ZM466.50 249.30V248.70H467.80V249.30ZM467.80 249.30V248.77H469.10V249.30ZM469.10 249.30V248.76H470.40V249.30ZM470.40 249.30V248.71H471.70V249.30ZM471.70 249.30V248.77H473.00V249.30ZM473.00 249.30V248.85H474.30V249.30ZM474.30 249.30V248.80H475.60V249.30ZM475.60 249.30V248.92H476.90V249.30ZM476.90 249.30V248.91H478.20V249.30ZM478.20 249.30V248.92H479.50V249.30ZM479.50 249.30V249.01H480.80V249.30ZM480.80 249.30V249.04H482.10V249.30ZM482.10 249.30V249.06H483.40V249.30ZM483.40 249.30V249.10H484.70V249.30ZM484.70 249.30V249.15H486.00V249.30ZM496.50 249.30V248.80H497.80V249.30Z" fill="#2e2574"/>
<rect x="313.30" y="164.80" width="199.60" height="84.50" fill="none" stroke="#d9d9d9" stroke-width="0.9"/>
<line x1="313.30" y1="249.30" x2="313.30" y2="247.10" stroke="#bdbdbd" stroke-width="0.7"/>
<line x1="313.30" y1="164.80" x2="313.30" y2="167.00" stroke="#bdbdbd" stroke-width="0.7"/>
<line x1="353.22" y1="249.30" x2="353.22" y2="247.10" stroke="#bdbdbd" stroke-width="0.7"/>
<line x1="353.22" y1="164.80" x2="353.22" y2="167.00" stroke="#bdbdbd" stroke-width="0.7"/>
<line x1="393.14" y1="249.30" x2="393.14" y2="247.10" stroke="#bdbdbd" stroke-width="0.7"/>
<line x1="393.14" y1="164.80" x2="393.14" y2="167.00" stroke="#bdbdbd" stroke-width="0.7"/>
<line x1="433.06" y1="249.30" x2="433.06" y2="247.10" stroke="#bdbdbd" stroke-width="0.7"/>
<line x1="433.06" y1="164.80" x2="433.06" y2="167.00" stroke="#bdbdbd" stroke-width="0.7"/>
<line x1="472.98" y1="249.30" x2="472.98" y2="247.10" stroke="#bdbdbd" stroke-width="0.7"/>
<line x1="472.98" y1="164.80" x2="472.98" y2="167.00" stroke="#bdbdbd" stroke-width="0.7"/>
<line x1="512.90" y1="249.30" x2="512.90" y2="247.10" stroke="#bdbdbd" stroke-width="0.7"/>
<line x1="512.90" y1="164.80" x2="512.90" y2="167.00" stroke="#bdbdbd" stroke-width="0.7"/>
<line x1="313.30" y1="249.30" x2="315.50" y2="249.30" stroke="#bdbdbd" stroke-width="0.7"/>
<line x1="512.90" y1="249.30" x2="510.70" y2="249.30" stroke="#bdbdbd" stroke-width="0.7"/>
<line x1="313.30" y1="232.40" x2="315.50" y2="232.40" stroke="#bdbdbd" stroke-width="0.7"/>
<line x1="512.90" y1="232.40" x2="510.70" y2="232.40" stroke="#bdbdbd" stroke-width="0.7"/>
<line x1="313.30" y1="215.50" x2="315.50" y2="215.50" stroke="#bdbdbd" stroke-width="0.7"/>
<line x1="512.90" y1="215.50" x2="510.70" y2="215.50" stroke="#bdbdbd" stroke-width="0.7"/>
<line x1="313.30" y1="198.60" x2="315.50" y2="198.60" stroke="#bdbdbd" stroke-width="0.7"/>
<line x1="512.90" y1="198.60" x2="510.70" y2="198.60" stroke="#bdbdbd" stroke-width="0.7"/>
<line x1="313.30" y1="181.70" x2="315.50" y2="181.70" stroke="#bdbdbd" stroke-width="0.7"/>
<line x1="512.90" y1="181.70" x2="510.70" y2="181.70" stroke="#bdbdbd" stroke-width="0.7"/>
<line x1="313.30" y1="164.80" x2="315.50" y2="164.80" stroke="#bdbdbd" stroke-width="0.7"/>
<line x1="512.90" y1="164.80" x2="510.70" y2="164.80" stroke="#bdbdbd" stroke-width="0.7"/>
<text x="313.30" y="258.80" font-size="6.7" text-anchor="middle" fill="#2a2a2a" font-family='"Liberation Sans", sans-serif' font-weight="normal">0</text>
<text x="353.22" y="258.80" font-size="6.7" text-anchor="middle" fill="#2a2a2a" font-family='"Liberation Sans", sans-serif' font-weight="normal">0.2</text>
<text x="393.14" y="258.80" font-size="6.7" text-anchor="middle" fill="#2a2a2a" font-family='"Liberation Sans", sans-serif' font-weight="normal">0.4</text>
<text x="433.06" y="258.80" font-size="6.7" text-anchor="middle" fill="#2a2a2a" font-family='"Liberation Sans", sans-serif' font-weight="normal">0.6</text>
<text x="472.98" y="258.80" font-size="6.7" text-anchor="middle" fill="#2a2a2a" font-family='"Liberation Sans", sans-serif' font-weight="normal">0.8</text>
<text x="512.90" y="258.80" font-size="6.7" text-anchor="middle" fill="#2a2a2a" font-family='"Liberation Sans", sans-serif' font-weight="normal">1</text>
<text x="311.60" y="251.93" font-size="6.5" text-anchor="end" fill="#2a2a2a" font-family='"Liberation Sans", sans-serif' font-weight="normal">0</text>
<text x="311.60" y="235.03" font-size="6.5" text-anchor="end" fill="#2a2a2a" font-family='"Liberation Sans", sans-serif' font-weight="normal">1</text>
<text x="311.60" y="218.13" font-size="6.5" text-anchor="end" fill="#2a2a2a" font-family='"Liberation Sans", sans-serif' font-weight="normal">2</text>
<text x="311.60" y="201.23" font-size="6.5" text-anchor="end" fill="#2a2a2a" font-family='"Liberation Sans", sans-serif' font-weight="normal">3</text>
<text x="311.60" y="184.33" font-size="6.5" text-anchor="end" fill="#2a2a2a" font-family='"Liberation Sans", sans-serif' font-weight="normal">4</text>
<text x="311.60" y="167.43" font-size="6.5" text-anchor="end" fill="#2a2a2a" font-family='"Liberation Sans", sans-serif' font-weight="normal">5</text>
<text transform="translate(302.00,207.30) rotate(-90)" x="0" y="2.76" font-size="7.7" text-anchor="middle" fill="#2a2a2a" font-family='"Liberation Sans", sans-serif' font-weight="normal">Density</text>
<text x="413.10" y="268.55" font-size="7.4" text-anchor="middle" fill="#2a2a2a" font-family='"Liberation Sans", sans-serif' font-weight="normal">I</text>
<text x="407.00" y="283.25" font-size="11" text-anchor="middle" fill="#2a2a2a" font-family='"Liberation Serif", serif' font-weight="bold">(d)</text>
<path d="M192.00 391.20V391.02H193.40V391.20ZM193.40 391.20V390.87H194.80V391.20ZM194.80 391.20V390.77H196.20V391.20ZM196.20 391.20V390.57H197.60V391.20ZM197.60 391.20V390.26H199.00V391.20ZM199.00 391.20V390.07H200.40V391.20ZM200.40 391.20V389.26H201.80V391.20ZM201.80 391.20V388.60H203.20V391.20ZM203.20 391.20V387.75H204.60V391.20ZM204.60 391.20V387.92H206.00V391.20ZM206.00 391.20V387.30H207.40V391.20ZM207.40 391.20V386.73H208.80V391.20ZM208.80 391.20V385.02H210.20V391.20ZM210.20 391.20V384.01H211.60V391.20ZM211.60 391.20V380.97H213.00V391.20ZM213.00 391.20V379.54H214.40V391.20ZM214.40 391.20V378.01H215.80V391.20ZM215.80 391.20V374.47H217.20V391.20ZM217.20 391.20V375.35H218.60V391.20ZM218.60 391.20V375.15H220.00V391.20ZM220.00 391.20V374.86H221.40V391.20ZM221.40 391.20V368.19H222.80V391.20ZM222.80 391.20V364.88H224.20V391.20ZM224.20 391.20V366.14H225.60V391.20ZM225.60 391.20V361.31H227.00V391.20ZM227.00 391.20V357.70H228.40V391.20ZM228.40 391.20V360.81H229.80V391.20ZM229.80 391.20V353.67H231.20V391.20ZM231.20 391.20V344.26H232.60V391.20ZM232.60 391.20V340.00H234.00V391.20ZM234.00 391.20V341.67H235.40V391.20ZM235.40 391.20V332.96H236.80V391.20ZM236.80 391.20V341.49H238.20V391.20ZM238.20 391.20V328.50H239.60V391.20ZM239.60 391.20V332.34H241.00V391.20ZM241.00 391.20V329.82H242.40V391.20ZM242.40 391.20V324.80H243.80V391.20ZM243.80 391.20V339.48H245.20V391.20ZM245.20 391.20V324.80H246.60V391.20ZM246.60 391.20V330.45H248.00V391.20ZM248.00 391.20V332.72H249.40V391.20ZM249.40 391.20V324.80H250.80V391.20ZM250.80 391.20V332.07H252.20V391.20ZM252.20 391.20V321.90H253.60V391.20ZM253.60 391.20V321.34H255.00V391.20ZM255.00 391.20V328.00H256.40V391.20ZM256.40 391.20V337.77H257.80V391.20ZM257.80 391.20V328.80H259.20V391.20ZM259.20 391.20V335.39H260.60V391.20ZM260.60 391.20V331.67H262.00V391.20ZM262.00 391.20V332.00H263.40V391.20ZM263.40 391.20V342.83H264.80V391.20ZM264.80 391.20V338.00H266.20V391.20ZM266.20 391.20V347.80H267.60V391.20ZM267.60 391.20V341.02H269.00V391.20ZM269.00 391.20V340.71H270.40V391.20ZM270.40 391.20V352.77H271.80V391.20ZM271.80 391.20V354.23H273.20V391.20ZM273.20 391.20V356.76H274.60V391.20ZM274.60 391.20V361.06H276.00V391.20ZM276.00 391.20V362.42H277.40V391.20ZM277.40 391.20V363.65H278.80V391.20ZM278.80 391.20V368.54H280.20V391.20ZM280.20 391.20V366.97H281.60V391.20ZM281.60 391.20V365.60H283.00V391.20ZM283.00 391.20V365.93H284.40V391.20ZM284.40 391.20V369.43H285.80V391.20ZM285.80 391.20V370.87H287.20V391.20ZM287.20 391.20V370.15H288.60V391.20ZM288.60 391.20V369.24H290.00V391.20ZM290.00 391.20V375.46H291.40V391.20ZM291.40 391.20V376.56H292.80V391.20ZM292.80 391.20V377.86H294.20V391.20ZM294.20 391.20V378.07H295.60V391.20ZM295.60 391.20V380.13H297.00V391.20ZM297.00 391.20V379.25H298.40V391.20ZM298.40 391.20V381.35H299.80V391.20ZM299.80 391.20V382.21H301.20V391.20ZM301.20 391.20V384.52H302.60V391.20ZM302.60 391.20V385.15H304.00V391.20ZM304.00 391.20V385.09H305.40V391.20ZM305.40 391.20V386.80H306.80V391.20ZM306.80 391.20V387.32H308.20V391.20ZM308.20 391.20V387.58H309.60V391.20ZM309.60 391.20V387.97H311.00V391.20ZM311.00 391.20V388.51H312.40V391.20ZM312.40 391.20V389.39H313.80V391.20ZM313.80 391.20V388.99H315.20V391.20ZM315.20 391.20V389.21H316.60V391.20ZM316.60 391.20V389.47H318.00V391.20ZM318.00 391.20V389.85H319.40V391.20ZM319.40 391.20V389.48H320.80V391.20ZM320.80 391.20V389.35H322.20V391.20ZM322.20 391.20V389.53H323.60V391.20ZM323.60 391.20V389.41H325.00V391.20ZM325.00 391.20V389.84H326.40V391.20ZM326.40 391.20V390.00H327.80V391.20ZM327.80 391.20V390.34H329.20V391.20ZM329.20 391.20V390.61H330.60V391.20ZM330.60 391.20V390.72H332.00V391.20ZM332.00 391.20V390.76H333.40V391.20ZM333.40 391.20V390.77H334.80V391.20ZM334.80 391.20V390.79H336.20V391.20ZM336.20 391.20V390.79H337.60V391.20ZM337.60 391.20V390.80H339.00V391.20ZM339.00 391.20V390.80H340.40V391.20ZM340.40 391.20V390.86H341.80V391.20ZM341.80 391.20V390.82H343.20V391.20ZM343.20 391.20V390.91H344.60V391.20ZM344.60 391.20V390.87H346.00V391.20ZM346.00 391.20V390.88H347.40V391.20ZM347.40 391.20V390.96H348.80V391.20ZM348.80 391.20V390.95H350.20V391.20ZM350.20 391.20V390.97H351.60V391.20ZM351.60 391.20V391.03H353.00V391.20ZM353.00 391.20V391.09H354.40V391.20ZM354.40 391.20V391.14H355.80V391.20Z" fill="#2e2574"/>
<rect x="182.30" y="306.60" width="199.60" height="84.60" fill="none" stroke="#d9d9d9" stroke-width="0.9"/>
<line x1="182.30" y1="391.20" x2="182.30" y2="389.00" stroke="#bdbdbd" stroke-width="0.7"/>
<line x1="182.30" y1="306.60" x2="182.30" y2="308.80" stroke="#bdbdbd" stroke-width="0.7"/>
<line x1="222.22" y1="391.20" x2="222.22" y2="389.00" stroke="#bdbdbd" stroke-width="0.7"/>
<line x1="222.22" y1="306.60" x2="222.22" y2="308.80" stroke="#bdbdbd" stroke-width="0.7"/>
<line x1="262.14" y1="391.20" x2="262.14" y2="389.00" stroke="#bdbdbd" stroke-width="0.7"/>
<line x1="262.14" y1="306.60" x2="262.14" y2="308.80" stroke="#bdbdbd" stroke-width="0.7"/>
<line x1="302.06" y1="391.20" x2="302.06" y2="389.00" stroke="#bdbdbd" stroke-width="0.7"/>
<line x1="302.06" y1="306.60" x2="302.06" y2="308.80" stroke="#bdbdbd" stroke-width="0.7"/>
<line x1="341.98" y1="391.20" x2="341.98" y2="389.00" stroke="#bdbdbd" stroke-width="0.7"/>
<line x1="341.98" y1="306.60" x2="341.98" y2="308.80" stroke="#bdbdbd" stroke-width="0.7"/>
<line x1="381.90" y1="391.20" x2="381.90" y2="389.00" stroke="#bdbdbd" stroke-width="0.7"/>
<line x1="381.90" y1="306.60" x2="381.90" y2="308.80" stroke="#bdbdbd" stroke-width="0.7"/>
<line x1="182.30" y1="391.20" x2="184.50" y2="391.20" stroke="#bdbdbd" stroke-width="0.7"/>
<line x1="381.90" y1="391.20" x2="379.70" y2="391.20" stroke="#bdbdbd" stroke-width="0.7"/>
<line x1="182.30" y1="370.05" x2="184.50" y2="370.05" stroke="#bdbdbd" stroke-width="0.7"/>
<line x1="381.90" y1="370.05" x2="379.70" y2="370.05" stroke="#bdbdbd" stroke-width="0.7"/>
<line x1="182.30" y1="348.90" x2="184.50" y2="348.90" stroke="#bdbdbd" stroke-width="0.7"/>
<line x1="381.90" y1="348.90" x2="379.70" y2="348.90" stroke="#bdbdbd" stroke-width="0.7"/>
<line x1="182.30" y1="327.75" x2="184.50" y2="327.75" stroke="#bdbdbd" stroke-width="0.7"/>
<line x1="381.90" y1="327.75" x2="379.70" y2="327.75" stroke="#bdbdbd" stroke-width="0.7"/>
<line x1="182.30" y1="306.60" x2="184.50" y2="306.60" stroke="#bdbdbd" stroke-width="0.7"/>
<line x1="381.90" y1="306.60" x2="379.70" y2="306.60" stroke="#bdbdbd" stroke-width="0.7"/>
<text x="182.30" y="400.90" font-size="6.7" text-anchor="middle" fill="#2a2a2a" font-family='"Liberation Sans", sans-serif' font-weight="normal">0.05</text>
<text x="222.22" y="400.90" font-size="6.7" text-anchor="middle" fill="#2a2a2a" font-family='"Liberation Sans", sans-serif' font-weight="normal">0.1</text>
<text x="262.14" y="400.90" font-size="6.7" text-anchor="middle" fill="#2a2a2a" font-family='"Liberation Sans", sans-serif' font-weight="normal">0.15</text>
<text x="302.06" y="400.90" font-size="6.7" text-anchor="middle" fill="#2a2a2a" font-family='"Liberation Sans", sans-serif' font-weight="normal">0.2</text>
<text x="341.98" y="400.90" font-size="6.7" text-anchor="middle" fill="#2a2a2a" font-family='"Liberation Sans", sans-serif' font-weight="normal">0.25</text>
<text x="381.90" y="400.90" font-size="6.7" text-anchor="middle" fill="#2a2a2a" font-family='"Liberation Sans", sans-serif' font-weight="normal">0.3</text>
<text x="180.50" y="394.13" font-size="6.5" text-anchor="end" fill="#2a2a2a" font-family='"Liberation Sans", sans-serif' font-weight="normal">0</text>
<text x="180.50" y="372.98" font-size="6.5" text-anchor="end" fill="#2a2a2a" font-family='"Liberation Sans", sans-serif' font-weight="normal">5</text>
<text x="180.50" y="351.83" font-size="6.5" text-anchor="end" fill="#2a2a2a" font-family='"Liberation Sans", sans-serif' font-weight="normal">10</text>
<text x="180.50" y="330.68" font-size="6.5" text-anchor="end" fill="#2a2a2a" font-family='"Liberation Sans", sans-serif' font-weight="normal">15</text>
<text x="180.50" y="309.53" font-size="6.5" text-anchor="end" fill="#2a2a2a" font-family='"Liberation Sans", sans-serif' font-weight="normal">20</text>
<text transform="translate(167.20,349.50) rotate(-90)" x="0" y="2.76" font-size="7.7" text-anchor="middle" fill="#2a2a2a" font-family='"Liberation Sans", sans-serif' font-weight="normal">Density</text>
<text x="282.20" y="410.75" font-size="7.4" text-anchor="middle" fill="#2a2a2a" font-family='"Liberation Sans", sans-serif' font-weight="normal">Q</text>
<text x="276.00" y="425.15" font-size="11" text-anchor="middle" fill="#2a2a2a" font-family='"Liberation Serif", serif' font-weight="bold">(e)</text>
</svg>
</body></html>
